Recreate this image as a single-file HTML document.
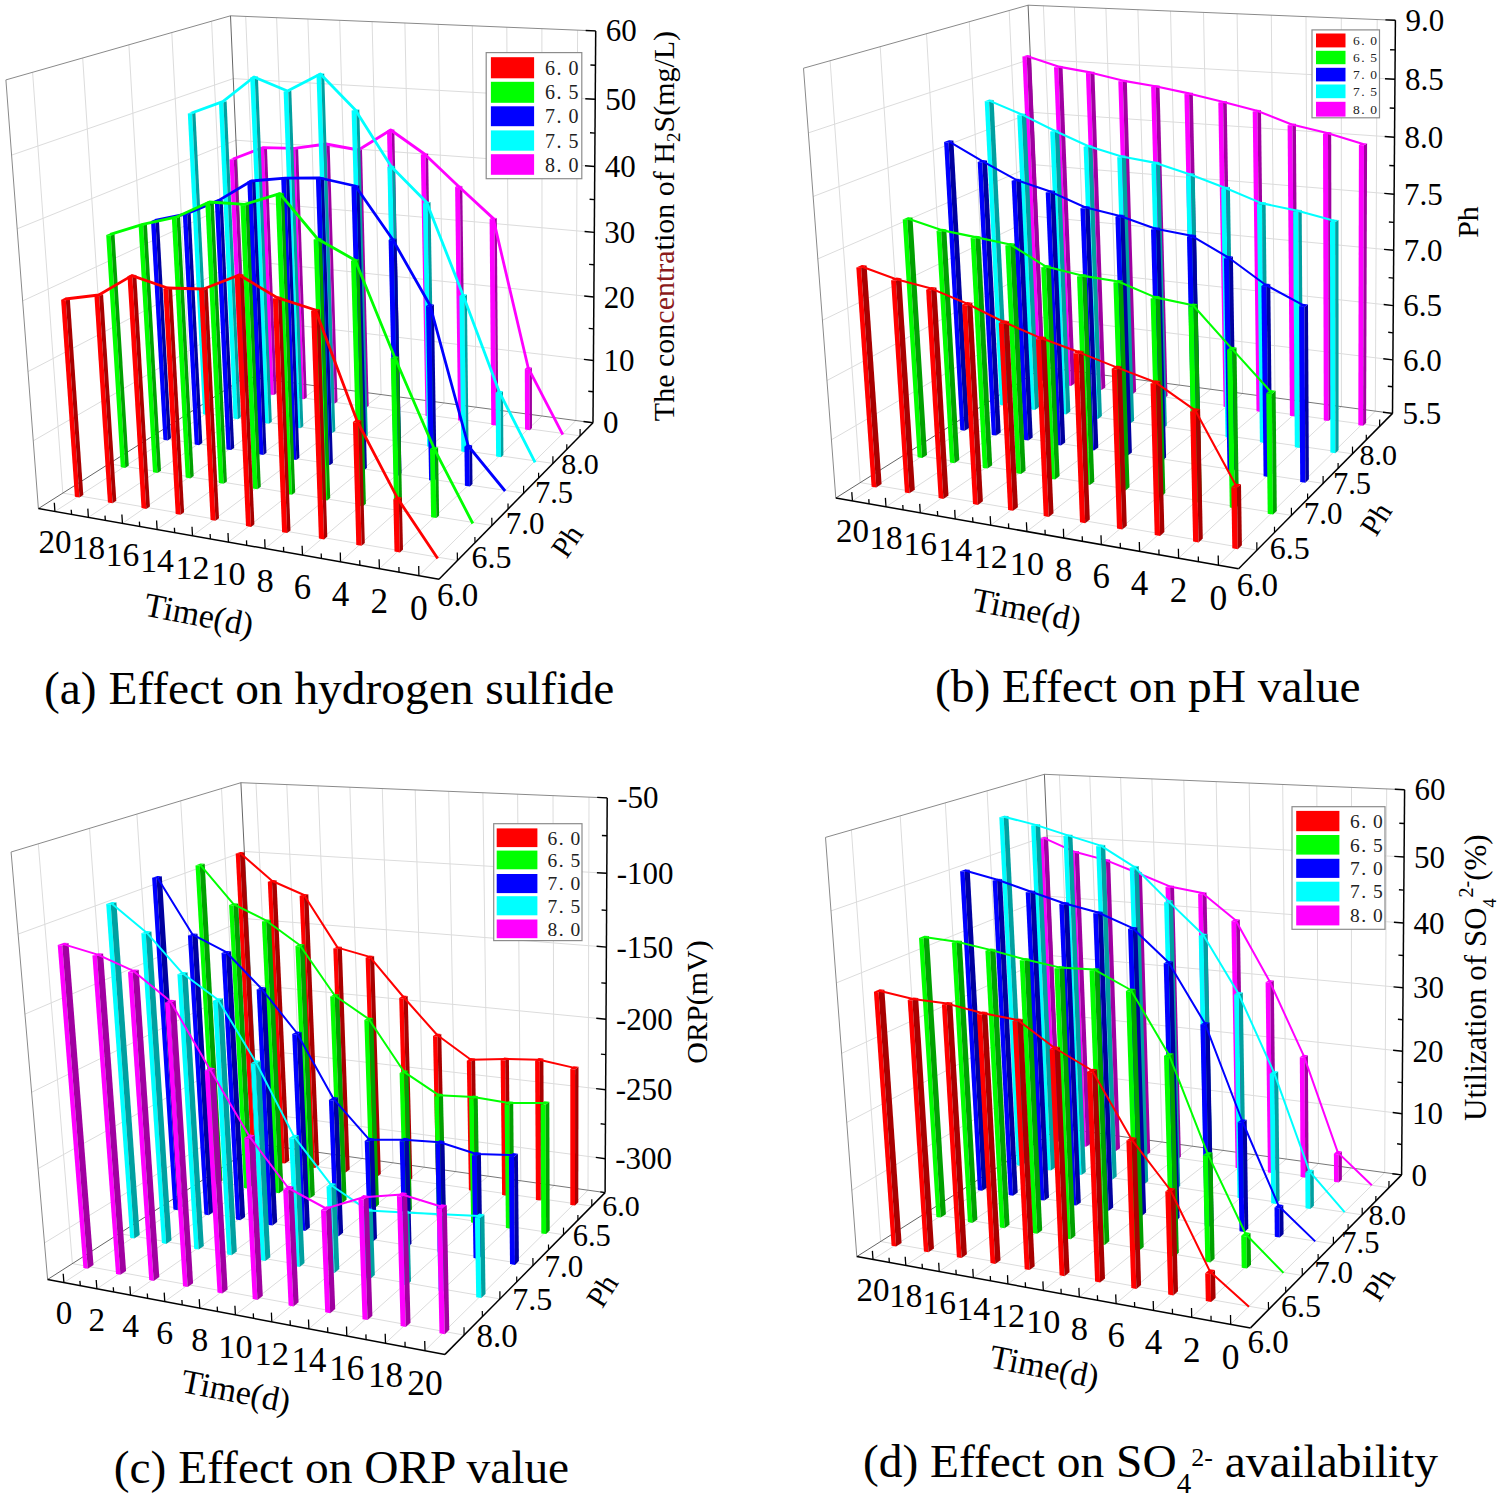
<!DOCTYPE html>
<html><head><meta charset="utf-8"><style>html,body{margin:0;padding:0;background:#fff;overflow:hidden}svg{display:block}</style></head>
<body><svg width="1499" height="1498" viewBox="0 0 1499 1498">
<rect width="1499" height="1498" fill="#fff"/>
<line x1="62.8" y1="493.1" x2="32.6" y2="72.3" stroke="#dcdcdc" stroke-width="1" />
<line x1="109.0" y1="463.8" x2="82.7" y2="58.0" stroke="#dcdcdc" stroke-width="1" />
<line x1="151.7" y1="436.7" x2="128.9" y2="44.8" stroke="#dcdcdc" stroke-width="1" />
<line x1="191.5" y1="411.4" x2="171.8" y2="32.6" stroke="#dcdcdc" stroke-width="1" />
<line x1="228.7" y1="387.8" x2="211.6" y2="21.2" stroke="#dcdcdc" stroke-width="1" />
<line x1="33.3" y1="440.8" x2="243.8" y2="319.0" stroke="#dcdcdc" stroke-width="1" />
<line x1="28.0" y1="371.6" x2="241.2" y2="260.4" stroke="#dcdcdc" stroke-width="1" />
<line x1="22.7" y1="300.9" x2="238.6" y2="200.9" stroke="#dcdcdc" stroke-width="1" />
<line x1="17.2" y1="228.8" x2="235.9" y2="140.2" stroke="#dcdcdc" stroke-width="1" />
<line x1="11.6" y1="155.1" x2="233.2" y2="78.6" stroke="#dcdcdc" stroke-width="1" />
<line x1="575.9" y1="420.5" x2="577.6" y2="30.2" stroke="#dcdcdc" stroke-width="1" />
<line x1="542.1" y1="416.0" x2="541.9" y2="28.7" stroke="#dcdcdc" stroke-width="1" />
<line x1="508.9" y1="411.6" x2="506.8" y2="27.2" stroke="#dcdcdc" stroke-width="1" />
<line x1="476.2" y1="407.2" x2="472.3" y2="25.8" stroke="#dcdcdc" stroke-width="1" />
<line x1="444.0" y1="403.0" x2="438.3" y2="24.4" stroke="#dcdcdc" stroke-width="1" />
<line x1="412.3" y1="398.7" x2="404.9" y2="23.0" stroke="#dcdcdc" stroke-width="1" />
<line x1="381.1" y1="394.6" x2="372.1" y2="21.7" stroke="#dcdcdc" stroke-width="1" />
<line x1="350.3" y1="390.5" x2="339.7" y2="20.3" stroke="#dcdcdc" stroke-width="1" />
<line x1="320.0" y1="386.5" x2="307.9" y2="19.0" stroke="#dcdcdc" stroke-width="1" />
<line x1="290.2" y1="382.5" x2="276.6" y2="17.7" stroke="#dcdcdc" stroke-width="1" />
<line x1="260.8" y1="378.6" x2="245.7" y2="16.4" stroke="#dcdcdc" stroke-width="1" />
<line x1="593.4" y1="360.5" x2="243.8" y2="319.0" stroke="#dcdcdc" stroke-width="1" />
<line x1="593.8" y1="297.0" x2="241.2" y2="260.4" stroke="#dcdcdc" stroke-width="1" />
<line x1="594.3" y1="232.4" x2="238.6" y2="200.9" stroke="#dcdcdc" stroke-width="1" />
<line x1="594.7" y1="166.5" x2="235.9" y2="140.2" stroke="#dcdcdc" stroke-width="1" />
<line x1="595.2" y1="99.3" x2="233.2" y2="78.6" stroke="#dcdcdc" stroke-width="1" />
<line x1="457.4" y1="560.5" x2="62.8" y2="493.1" stroke="#dcdcdc" stroke-width="1" />
<line x1="491.9" y1="525.5" x2="109.0" y2="463.8" stroke="#dcdcdc" stroke-width="1" />
<line x1="523.6" y1="493.2" x2="151.7" y2="436.7" stroke="#dcdcdc" stroke-width="1" />
<line x1="552.9" y1="463.4" x2="191.5" y2="411.4" stroke="#dcdcdc" stroke-width="1" />
<line x1="580.1" y1="435.8" x2="228.7" y2="387.8" stroke="#dcdcdc" stroke-width="1" />
<line x1="418.9" y1="575.7" x2="575.9" y2="420.5" stroke="#dcdcdc" stroke-width="1" />
<line x1="379.4" y1="568.7" x2="542.1" y2="416.0" stroke="#dcdcdc" stroke-width="1" />
<line x1="340.5" y1="561.8" x2="508.9" y2="411.6" stroke="#dcdcdc" stroke-width="1" />
<line x1="302.5" y1="555.1" x2="476.2" y2="407.2" stroke="#dcdcdc" stroke-width="1" />
<line x1="265.1" y1="548.6" x2="444.0" y2="403.0" stroke="#dcdcdc" stroke-width="1" />
<line x1="228.4" y1="542.1" x2="412.3" y2="398.7" stroke="#dcdcdc" stroke-width="1" />
<line x1="192.5" y1="535.8" x2="381.1" y2="394.6" stroke="#dcdcdc" stroke-width="1" />
<line x1="157.1" y1="529.5" x2="350.3" y2="390.5" stroke="#dcdcdc" stroke-width="1" />
<line x1="122.4" y1="523.4" x2="320.0" y2="386.5" stroke="#dcdcdc" stroke-width="1" />
<line x1="88.4" y1="517.4" x2="290.2" y2="382.5" stroke="#dcdcdc" stroke-width="1" />
<line x1="54.9" y1="511.5" x2="260.8" y2="378.6" stroke="#dcdcdc" stroke-width="1" />
<line x1="5.9" y1="79.9" x2="230.5" y2="15.8" stroke="#8a8a8a" stroke-width="1" />
<line x1="230.5" y1="15.8" x2="595.7" y2="30.9" stroke="#8a8a8a" stroke-width="1" />
<line x1="38.4" y1="508.6" x2="5.9" y2="79.9" stroke="#8a8a8a" stroke-width="1" />
<line x1="246.3" y1="376.6" x2="230.5" y2="15.8" stroke="#666" stroke-width="1" />
<line x1="38.4" y1="508.6" x2="246.3" y2="376.6" stroke="#666" stroke-width="1" />
<line x1="246.3" y1="376.6" x2="593.0" y2="422.8" stroke="#777" stroke-width="1" />
<polygon points="239.9,390.5 244.0,391.0 233.8,159.8 229.5,159.5" fill="#ff00ff" />
<polygon points="244.0,391.0 246.8,389.2 236.7,158.5 233.8,159.8" fill="#a000a0" />
<polygon points="229.5,159.5 233.8,159.8 236.7,158.5 232.5,158.2" fill="#ff00ff" />
<polygon points="269.6,394.5 273.8,395.1 264.0,148.4 259.6,148.1" fill="#ff00ff" />
<polygon points="273.8,395.1 276.6,393.3 266.9,147.1 264.0,148.4" fill="#a000a0" />
<polygon points="259.6,148.1 264.0,148.4 266.9,147.1 262.6,146.8" fill="#ff00ff" />
<polygon points="299.8,398.7 304.1,399.3 295.2,149.2 290.8,148.9" fill="#ff00ff" />
<polygon points="304.1,399.3 306.8,397.4 298.1,147.9 295.2,149.2" fill="#a000a0" />
<polygon points="290.8,148.9 295.2,149.2 298.1,147.9 293.7,147.6" fill="#ff00ff" />
<polygon points="330.5,402.9 334.9,403.5 326.8,144.8 322.4,144.5" fill="#ff00ff" />
<polygon points="334.9,403.5 337.5,401.6 329.6,143.5 326.8,144.8" fill="#a000a0" />
<polygon points="322.4,144.5 326.8,144.8 329.6,143.5 325.1,143.2" fill="#ff00ff" />
<polygon points="361.7,407.1 366.1,407.8 359.3,150.8 354.7,150.5" fill="#ff00ff" />
<polygon points="366.1,407.8 368.7,405.8 362.0,149.5 359.3,150.8" fill="#a000a0" />
<polygon points="354.7,150.5 359.3,150.8 362.0,149.5 357.4,149.2" fill="#ff00ff" />
<polygon points="393.3,411.5 397.8,412.1 391.7,130.8 387.0,130.5" fill="#ff00ff" />
<polygon points="397.8,412.1 400.3,410.1 394.3,129.5 391.7,130.8" fill="#a000a0" />
<polygon points="387.0,130.5 391.7,130.8 394.3,129.5 389.7,129.2" fill="#ff00ff" />
<polygon points="425.5,415.9 430.0,416.5 425.5,154.8 420.8,154.5" fill="#ff00ff" />
<polygon points="430.0,416.5 432.4,414.5 428.1,153.5 425.5,154.8" fill="#a000a0" />
<polygon points="420.8,154.5 425.5,154.8 428.1,153.5 423.4,153.2" fill="#ff00ff" />
<polygon points="458.1,420.4 462.7,421.0 459.9,187.4 455.1,187.0" fill="#ff00ff" />
<polygon points="462.7,421.0 465.1,419.0 462.3,186.0 459.9,187.4" fill="#a000a0" />
<polygon points="455.1,187.0 459.9,187.4 462.3,186.0 457.6,185.6" fill="#ff00ff" />
<polygon points="491.3,424.9 496.0,425.5 494.5,219.4 489.6,218.9" fill="#ff00ff" />
<polygon points="496.0,425.5 498.3,423.5 496.8,217.9 494.5,219.4" fill="#a000a0" />
<polygon points="489.6,218.9 494.5,219.4 496.8,217.9 492.0,217.4" fill="#ff00ff" />
<polygon points="525.0,429.5 529.8,430.2 529.6,369.5 524.8,368.9" fill="#ff00ff" />
<polygon points="529.8,430.2 532.0,428.1 531.9,367.5 529.6,369.5" fill="#a000a0" />
<polygon points="524.8,368.9 529.6,369.5 531.9,367.5 527.1,366.9" fill="#ff00ff" />
<polyline points="233.1,159.0 263.3,147.6 294.5,148.4 326.0,144.0 358.4,150.0 390.7,130.0 424.5,154.0 458.7,186.5 493.2,218.4 528.3,368.2 562.8,434.6" fill="none" stroke="#ff00ff" stroke-width="2.8" stroke-linejoin="round" />
<polygon points="203.0,414.2 207.2,414.9 192.2,113.7 187.8,113.4" fill="#00ffff" />
<polygon points="207.2,414.9 210.3,412.9 195.4,112.6 192.2,113.7" fill="#00a0a0" />
<polygon points="187.8,113.4 192.2,113.7 195.4,112.6 191.0,112.3" fill="#00ffff" />
<polygon points="233.5,418.6 237.8,419.3 223.4,102.3 218.9,102.0" fill="#00ffff" />
<polygon points="237.8,419.3 240.8,417.3 226.6,101.2 223.4,102.3" fill="#00a0a0" />
<polygon points="218.9,102.0 223.4,102.3 226.6,101.2 222.1,100.9" fill="#00ffff" />
<polygon points="264.5,423.1 268.9,423.8 254.8,77.7 250.2,77.4" fill="#00ffff" />
<polygon points="268.9,423.8 271.8,421.7 257.9,76.6 254.8,77.7" fill="#00a0a0" />
<polygon points="250.2,77.4 254.8,77.7 257.9,76.6 253.3,76.3" fill="#00ffff" />
<polygon points="296.0,427.7 300.4,428.3 288.3,91.7 283.6,91.4" fill="#00ffff" />
<polygon points="300.4,428.3 303.3,426.3 291.3,90.6 288.3,91.7" fill="#00a0a0" />
<polygon points="283.6,91.4 288.3,91.7 291.3,90.6 286.6,90.3" fill="#00ffff" />
<polygon points="328.0,432.3 332.5,432.9 321.2,74.7 316.5,74.4" fill="#00ffff" />
<polygon points="332.5,432.9 335.3,430.9 324.2,73.6 321.2,74.7" fill="#00a0a0" />
<polygon points="316.5,74.4 321.2,74.7 324.2,73.6 319.5,73.3" fill="#00ffff" />
<polygon points="360.5,437.0 365.1,437.6 356.4,110.8 351.6,110.5" fill="#00ffff" />
<polygon points="365.1,437.6 367.8,435.5 359.3,109.5 356.4,110.8" fill="#00a0a0" />
<polygon points="351.6,110.5 356.4,110.8 359.3,109.5 354.5,109.2" fill="#00ffff" />
<polygon points="393.6,441.8 398.2,442.4 392.3,167.4 387.4,167.0" fill="#00ffff" />
<polygon points="398.2,442.4 400.9,440.3 395.0,166.0 392.3,167.4" fill="#00a0a0" />
<polygon points="387.4,167.0 392.3,167.4 395.0,166.0 390.2,165.6" fill="#00ffff" />
<polygon points="427.2,446.6 431.9,447.3 427.8,203.6 422.9,203.1" fill="#00ffff" />
<polygon points="431.9,447.3 434.5,445.1 430.5,202.1 427.8,203.6" fill="#00a0a0" />
<polygon points="422.9,203.1 427.8,203.6 430.5,202.1 425.6,201.6" fill="#00ffff" />
<polygon points="461.3,451.5 466.2,452.2 464.3,296.4 459.4,295.8" fill="#00ffff" />
<polygon points="466.2,452.2 468.6,450.0 466.9,294.6 464.3,296.4" fill="#00a0a0" />
<polygon points="459.4,295.8 464.3,296.4 466.9,294.6 461.9,294.1" fill="#00ffff" />
<polygon points="496.1,456.6 501.0,457.3 500.6,393.4 495.6,392.7" fill="#00ffff" />
<polygon points="501.0,457.3 503.4,455.0 503.0,391.3 500.6,393.4" fill="#00a0a0" />
<polygon points="495.6,392.7 500.6,393.4 503.0,391.3 498.0,390.7" fill="#00ffff" />
<polyline points="191.6,113.0 222.8,101.6 254.0,77.0 287.5,91.0 320.4,74.0 355.4,110.0 391.2,166.5 426.7,202.6 463.1,295.2 499.3,392.0 535.1,462.3" fill="none" stroke="#00ffff" stroke-width="2.8" stroke-linejoin="round" />
<polygon points="163.4,439.7 167.7,440.4 155.5,221.4 151.0,221.0" fill="#0000ff" />
<polygon points="167.7,440.4 171.0,438.3 158.9,219.9 155.5,221.4" fill="#0000a0" />
<polygon points="151.0,221.0 155.5,221.4 158.9,219.9 154.5,219.4" fill="#0000ff" />
<polygon points="194.7,444.5 199.1,445.2 187.3,214.8 182.8,214.3" fill="#0000ff" />
<polygon points="199.1,445.2 202.3,443.0 190.7,213.3 187.3,214.8" fill="#0000a0" />
<polygon points="182.8,214.3 187.3,214.8 190.7,213.3 186.1,212.8" fill="#0000ff" />
<polygon points="226.5,449.4 231.0,450.1 219.5,201.4 214.8,200.9" fill="#0000ff" />
<polygon points="231.0,450.1 234.2,447.9 222.7,199.9 219.5,201.4" fill="#0000a0" />
<polygon points="214.8,200.9 219.5,201.4 222.7,199.9 218.1,199.4" fill="#0000ff" />
<polygon points="258.9,454.3 263.5,455.0 252.1,181.9 247.3,181.5" fill="#0000ff" />
<polygon points="263.5,455.0 266.5,452.8 255.3,180.5 252.1,181.9" fill="#0000a0" />
<polygon points="247.3,181.5 252.1,181.9 255.3,180.5 250.5,180.1" fill="#0000ff" />
<polygon points="291.8,459.3 296.4,460.0 286.1,179.1 281.2,178.7" fill="#0000ff" />
<polygon points="296.4,460.0 299.4,457.8 289.2,177.7 286.1,179.1" fill="#0000a0" />
<polygon points="281.2,178.7 286.1,179.1 289.2,177.7 284.4,177.3" fill="#0000ff" />
<polygon points="325.2,464.4 330.0,465.1 320.8,178.9 315.9,178.5" fill="#0000ff" />
<polygon points="330.0,465.1 332.9,462.9 323.9,177.5 320.8,178.9" fill="#0000a0" />
<polygon points="315.9,178.5 320.8,178.9 323.9,177.5 319.0,177.1" fill="#0000ff" />
<polygon points="359.3,469.6 364.1,470.3 356.4,187.0 351.4,186.5" fill="#0000ff" />
<polygon points="364.1,470.3 366.9,468.0 359.4,185.5 356.4,187.0" fill="#0000a0" />
<polygon points="351.4,186.5 356.4,187.0 359.4,185.5 354.4,185.0" fill="#0000ff" />
<polygon points="393.9,474.9 398.8,475.6 393.6,240.4 388.6,239.9" fill="#0000ff" />
<polygon points="398.8,475.6 401.5,473.3 396.5,238.7 393.6,240.4" fill="#0000a0" />
<polygon points="388.6,239.9 393.6,240.4 396.5,238.7 391.4,238.2" fill="#0000ff" />
<polygon points="429.1,480.2 434.0,481.0 431.1,306.4 426.0,305.9" fill="#0000ff" />
<polygon points="434.0,481.0 436.7,478.6 433.9,304.5 431.1,306.4" fill="#0000a0" />
<polygon points="426.0,305.9 431.1,306.4 433.9,304.5 428.8,304.0" fill="#0000ff" />
<polygon points="464.9,485.7 469.9,486.5 469.5,447.5 464.4,446.8" fill="#0000ff" />
<polygon points="469.9,486.5 472.5,484.1 472.1,445.2 469.5,447.5" fill="#0000a0" />
<polygon points="464.4,446.8 469.5,447.5 472.1,445.2 467.0,444.5" fill="#0000ff" />
<polyline points="155.0,220.4 186.7,213.8 218.8,200.4 251.3,181.0 285.2,178.2 319.9,178.0 355.4,186.0 392.5,239.3 430.0,305.2 468.3,446.0 505.1,491.0" fill="none" stroke="#0000ff" stroke-width="2.8" stroke-linejoin="round" />
<polygon points="120.8,467.2 125.3,467.9 110.8,235.4 106.2,235.0" fill="#00ff00" />
<polygon points="125.3,467.9 128.8,465.6 114.5,233.8 110.8,235.4" fill="#00a000" />
<polygon points="106.2,235.0 110.8,235.4 114.5,233.8 109.9,233.4" fill="#00ff00" />
<polygon points="153.0,472.3 157.5,473.1 143.2,225.4 138.6,225.0" fill="#00ff00" />
<polygon points="157.5,473.1 161.0,470.8 146.9,223.8 143.2,225.4" fill="#00a000" />
<polygon points="138.6,225.0 143.2,225.4 146.9,223.8 142.2,223.4" fill="#00ff00" />
<polygon points="185.7,477.6 190.3,478.4 176.6,218.2 171.8,217.8" fill="#00ff00" />
<polygon points="190.3,478.4 193.7,476.0 180.1,216.6 176.6,218.2" fill="#00a000" />
<polygon points="171.8,217.8 176.6,218.2 180.1,216.6 175.3,216.2" fill="#00ff00" />
<polygon points="218.9,483.0 223.6,483.7 210.2,203.0 205.3,202.6" fill="#00ff00" />
<polygon points="223.6,483.7 226.9,481.4 213.7,201.4 210.2,203.0" fill="#00a000" />
<polygon points="205.3,202.6 210.2,203.0 213.7,201.4 208.8,201.0" fill="#00ff00" />
<polygon points="252.8,488.5 257.5,489.2 245.4,205.4 240.4,205.0" fill="#00ff00" />
<polygon points="257.5,489.2 260.8,486.8 248.8,203.8 245.4,205.4" fill="#00a000" />
<polygon points="240.4,205.0 245.4,205.4 248.8,203.8 243.8,203.4" fill="#00ff00" />
<polygon points="287.2,494.0 292.0,494.8 280.7,194.6 275.6,194.2" fill="#00ff00" />
<polygon points="292.0,494.8 295.2,492.3 284.0,193.0 280.7,194.6" fill="#00a000" />
<polygon points="275.6,194.2 280.7,194.6 284.0,193.0 279.0,192.6" fill="#00ff00" />
<polygon points="322.2,499.7 327.2,500.5 318.7,240.1 313.6,239.6" fill="#00ff00" />
<polygon points="327.2,500.5 330.2,498.0 321.9,238.4 318.7,240.1" fill="#00a000" />
<polygon points="313.6,239.6 318.7,240.1 321.9,238.4 316.8,237.9" fill="#00ff00" />
<polygon points="357.9,505.4 362.9,506.2 356.2,261.4 351.0,260.8" fill="#00ff00" />
<polygon points="362.9,506.2 365.9,503.7 359.3,259.6 356.2,261.4" fill="#00a000" />
<polygon points="351.0,260.8 356.2,261.4 359.3,259.6 354.1,259.0" fill="#00ff00" />
<polygon points="394.2,511.3 399.3,512.1 396.0,358.9 390.7,358.2" fill="#00ff00" />
<polygon points="399.3,512.1 402.2,509.5 398.9,356.8 396.0,358.9" fill="#00a000" />
<polygon points="390.7,358.2 396.0,358.9 398.9,356.8 393.7,356.1" fill="#00ff00" />
<polygon points="431.1,517.2 436.4,518.1 435.2,449.9 430.0,449.1" fill="#00ff00" />
<polygon points="436.4,518.1 439.1,515.5 438.1,447.5 435.2,449.9" fill="#00a000" />
<polygon points="430.0,449.1 435.2,449.9 438.1,447.5 432.8,446.7" fill="#00ff00" />
<polyline points="110.3,234.4 142.7,224.4 175.9,217.2 209.5,202.0 244.6,204.4 279.8,193.6 317.7,239.0 355.2,260.2 394.8,357.5 434.0,448.3 472.8,523.5" fill="none" stroke="#00ff00" stroke-width="2.8" stroke-linejoin="round" />
<polygon points="74.9,496.7 79.5,497.5 65.8,300.2 61.1,299.7" fill="#ff0000" />
<polygon points="79.5,497.5 83.3,495.1 69.8,298.3 65.8,300.2" fill="#a80000" />
<polygon points="61.1,299.7 65.8,300.2 69.8,298.3 65.1,297.8" fill="#ff0000" />
<polygon points="107.9,502.4 112.6,503.2 99.2,296.2 94.4,295.7" fill="#ff0000" />
<polygon points="112.6,503.2 116.3,500.7 103.1,294.3 99.2,296.2" fill="#a80000" />
<polygon points="94.4,295.7 99.2,296.2 103.1,294.3 98.3,293.8" fill="#ff0000" />
<polygon points="141.5,508.1 146.3,508.9 132.4,276.8 127.5,276.3" fill="#ff0000" />
<polygon points="146.3,508.9 149.9,506.4 136.3,274.9 132.4,276.8" fill="#a80000" />
<polygon points="127.5,276.3 132.4,276.8 136.3,274.9 131.4,274.4" fill="#ff0000" />
<polygon points="175.7,514.0 180.6,514.8 168.3,289.2 163.3,288.7" fill="#ff0000" />
<polygon points="180.6,514.8 184.1,512.2 172.0,287.3 168.3,289.2" fill="#a80000" />
<polygon points="163.3,288.7 168.3,289.2 172.0,287.3 167.0,286.8" fill="#ff0000" />
<polygon points="210.6,520.0 215.5,520.8 204.1,290.3 199.0,289.7" fill="#ff0000" />
<polygon points="215.5,520.8 219.0,518.2 207.7,288.3 204.1,290.3" fill="#a80000" />
<polygon points="199.0,289.7 204.1,290.3 207.7,288.3 202.7,287.7" fill="#ff0000" />
<polygon points="246.0,526.0 251.0,526.9 240.0,276.2 234.8,275.7" fill="#ff0000" />
<polygon points="251.0,526.9 254.4,524.2 243.5,274.3 240.0,276.2" fill="#a80000" />
<polygon points="234.8,275.7 240.0,276.2 243.5,274.3 238.4,273.8" fill="#ff0000" />
<polygon points="282.1,532.2 287.2,533.1 278.1,298.9 272.9,298.3" fill="#ff0000" />
<polygon points="287.2,533.1 290.5,530.4 281.6,296.9 278.1,298.9" fill="#a80000" />
<polygon points="272.9,298.3 278.1,298.9 281.6,296.9 276.4,296.3" fill="#ff0000" />
<polygon points="318.9,538.5 324.1,539.4 316.5,311.3 311.1,310.7" fill="#ff0000" />
<polygon points="324.1,539.4 327.3,536.6 319.9,309.3 316.5,311.3" fill="#a80000" />
<polygon points="311.1,310.7 316.5,311.3 319.9,309.3 314.5,308.7" fill="#ff0000" />
<polygon points="356.3,544.9 361.6,545.8 358.3,422.8 352.9,422.0" fill="#ff0000" />
<polygon points="361.6,545.8 364.8,543.0 361.4,420.4 358.3,422.8" fill="#a80000" />
<polygon points="352.9,422.0 358.3,422.8 361.4,420.4 356.1,419.6" fill="#ff0000" />
<polygon points="394.5,551.5 399.9,552.4 398.8,500.2 393.3,499.3" fill="#ff0000" />
<polygon points="399.9,552.4 403.0,549.5 401.8,497.5 398.8,500.2" fill="#a80000" />
<polygon points="393.3,499.3 398.8,500.2 401.8,497.5 396.4,496.6" fill="#ff0000" />
<polyline points="65.4,299.0 98.8,295.0 131.9,275.6 167.6,288.0 203.4,289.0 239.2,275.0 277.2,297.6 315.5,310.0 357.2,421.2 397.6,498.4 437.7,558.5" fill="none" stroke="#ff0000" stroke-width="2.8" stroke-linejoin="round" />
<line x1="38.4" y1="508.6" x2="439.0" y2="579.2" stroke="#000" stroke-width="1.5" />
<line x1="439.0" y1="579.2" x2="593.0" y2="422.8" stroke="#000" stroke-width="1.5" />
<line x1="593.0" y1="422.8" x2="595.7" y2="30.9" stroke="#000" stroke-width="1.5" />
<line x1="418.9" y1="575.7" x2="418.7" y2="566.1" stroke="#000" stroke-width="1.3" />
<line x1="399.0" y1="572.2" x2="398.9" y2="567.0" stroke="#000" stroke-width="1.3" />
<line x1="379.4" y1="568.7" x2="379.1" y2="559.2" stroke="#000" stroke-width="1.3" />
<line x1="359.9" y1="565.3" x2="359.7" y2="560.2" stroke="#000" stroke-width="1.3" />
<line x1="340.5" y1="561.8" x2="340.3" y2="552.5" stroke="#000" stroke-width="1.3" />
<line x1="321.4" y1="558.5" x2="321.2" y2="553.5" stroke="#000" stroke-width="1.3" />
<line x1="302.5" y1="555.1" x2="302.1" y2="545.8" stroke="#000" stroke-width="1.3" />
<line x1="283.7" y1="551.8" x2="283.5" y2="546.9" stroke="#000" stroke-width="1.3" />
<line x1="265.1" y1="548.6" x2="264.7" y2="539.3" stroke="#000" stroke-width="1.3" />
<line x1="246.7" y1="545.3" x2="246.5" y2="540.4" stroke="#000" stroke-width="1.3" />
<line x1="228.4" y1="542.1" x2="228.0" y2="533.0" stroke="#000" stroke-width="1.3" />
<line x1="210.4" y1="538.9" x2="210.1" y2="534.0" stroke="#000" stroke-width="1.3" />
<line x1="192.5" y1="535.8" x2="192.0" y2="526.7" stroke="#000" stroke-width="1.3" />
<line x1="174.7" y1="532.6" x2="174.4" y2="527.8" stroke="#000" stroke-width="1.3" />
<line x1="157.1" y1="529.5" x2="156.6" y2="520.5" stroke="#000" stroke-width="1.3" />
<line x1="139.7" y1="526.5" x2="139.4" y2="521.6" stroke="#000" stroke-width="1.3" />
<line x1="122.4" y1="523.4" x2="121.9" y2="514.5" stroke="#000" stroke-width="1.3" />
<line x1="105.3" y1="520.4" x2="105.0" y2="515.6" stroke="#000" stroke-width="1.3" />
<line x1="88.4" y1="517.4" x2="87.8" y2="508.6" stroke="#000" stroke-width="1.3" />
<line x1="71.6" y1="514.5" x2="71.2" y2="509.7" stroke="#000" stroke-width="1.3" />
<line x1="54.9" y1="511.5" x2="54.3" y2="502.8" stroke="#000" stroke-width="1.3" />
<line x1="457.4" y1="560.5" x2="457.3" y2="552.6" stroke="#000" stroke-width="1.2" />
<line x1="475.0" y1="542.6" x2="474.9" y2="537.0" stroke="#000" stroke-width="1.2" />
<line x1="491.9" y1="525.5" x2="491.8" y2="517.8" stroke="#000" stroke-width="1.2" />
<line x1="508.1" y1="509.0" x2="508.0" y2="503.6" stroke="#000" stroke-width="1.2" />
<line x1="523.6" y1="493.2" x2="523.6" y2="485.8" stroke="#000" stroke-width="1.2" />
<line x1="538.6" y1="478.1" x2="538.6" y2="472.8" stroke="#000" stroke-width="1.2" />
<line x1="552.9" y1="463.4" x2="552.9" y2="456.3" stroke="#000" stroke-width="1.2" />
<line x1="566.8" y1="449.4" x2="566.8" y2="444.3" stroke="#000" stroke-width="1.2" />
<line x1="580.1" y1="435.8" x2="580.1" y2="428.9" stroke="#000" stroke-width="1.2" />
<line x1="593.0" y1="422.8" x2="583.5" y2="421.5" stroke="#000" stroke-width="1.4" />
<line x1="593.2" y1="391.8" x2="588.3" y2="391.2" stroke="#000" stroke-width="1.4" />
<line x1="593.4" y1="360.5" x2="583.9" y2="359.4" stroke="#000" stroke-width="1.4" />
<line x1="593.6" y1="328.9" x2="588.7" y2="328.4" stroke="#000" stroke-width="1.4" />
<line x1="593.8" y1="297.0" x2="584.2" y2="296.0" stroke="#000" stroke-width="1.4" />
<line x1="594.1" y1="264.8" x2="589.1" y2="264.4" stroke="#000" stroke-width="1.4" />
<line x1="594.3" y1="232.4" x2="584.6" y2="231.5" stroke="#000" stroke-width="1.4" />
<line x1="594.5" y1="199.6" x2="589.6" y2="199.2" stroke="#000" stroke-width="1.4" />
<line x1="594.7" y1="166.5" x2="585.0" y2="165.8" stroke="#000" stroke-width="1.4" />
<line x1="595.0" y1="133.1" x2="590.0" y2="132.7" stroke="#000" stroke-width="1.4" />
<line x1="595.2" y1="99.3" x2="585.3" y2="98.8" stroke="#000" stroke-width="1.4" />
<line x1="595.4" y1="65.3" x2="590.4" y2="65.0" stroke="#000" stroke-width="1.4" />
<line x1="595.7" y1="30.9" x2="585.7" y2="30.5" stroke="#000" stroke-width="1.4" />
<line x1="860.2" y1="482.6" x2="830.1" y2="60.7" stroke="#dcdcdc" stroke-width="1" />
<line x1="906.4" y1="453.6" x2="880.2" y2="46.6" stroke="#dcdcdc" stroke-width="1" />
<line x1="949.2" y1="426.6" x2="926.5" y2="33.7" stroke="#dcdcdc" stroke-width="1" />
<line x1="989.0" y1="401.6" x2="969.3" y2="21.6" stroke="#dcdcdc" stroke-width="1" />
<line x1="1026.2" y1="378.2" x2="1009.2" y2="10.5" stroke="#dcdcdc" stroke-width="1" />
<line x1="831.4" y1="439.8" x2="1041.7" y2="317.6" stroke="#dcdcdc" stroke-width="1" />
<line x1="827.0" y1="380.5" x2="1039.5" y2="267.4" stroke="#dcdcdc" stroke-width="1" />
<line x1="822.4" y1="320.3" x2="1037.3" y2="216.5" stroke="#dcdcdc" stroke-width="1" />
<line x1="817.8" y1="258.9" x2="1035.0" y2="164.8" stroke="#dcdcdc" stroke-width="1" />
<line x1="813.1" y1="196.5" x2="1032.7" y2="112.4" stroke="#dcdcdc" stroke-width="1" />
<line x1="808.3" y1="132.9" x2="1030.4" y2="59.2" stroke="#dcdcdc" stroke-width="1" />
<line x1="1375.3" y1="411.2" x2="1377.2" y2="19.6" stroke="#dcdcdc" stroke-width="1" />
<line x1="1341.4" y1="406.6" x2="1341.3" y2="18.1" stroke="#dcdcdc" stroke-width="1" />
<line x1="1307.9" y1="402.2" x2="1306.0" y2="16.6" stroke="#dcdcdc" stroke-width="1" />
<line x1="1275.0" y1="397.8" x2="1271.3" y2="15.2" stroke="#dcdcdc" stroke-width="1" />
<line x1="1242.6" y1="393.5" x2="1237.1" y2="13.8" stroke="#dcdcdc" stroke-width="1" />
<line x1="1210.8" y1="389.3" x2="1203.5" y2="12.4" stroke="#dcdcdc" stroke-width="1" />
<line x1="1179.4" y1="385.1" x2="1170.5" y2="11.0" stroke="#dcdcdc" stroke-width="1" />
<line x1="1148.4" y1="381.0" x2="1137.9" y2="9.7" stroke="#dcdcdc" stroke-width="1" />
<line x1="1118.0" y1="376.9" x2="1105.9" y2="8.4" stroke="#dcdcdc" stroke-width="1" />
<line x1="1088.0" y1="372.9" x2="1074.4" y2="7.1" stroke="#dcdcdc" stroke-width="1" />
<line x1="1058.4" y1="369.0" x2="1043.4" y2="5.8" stroke="#dcdcdc" stroke-width="1" />
<line x1="1392.9" y1="359.9" x2="1041.7" y2="317.6" stroke="#dcdcdc" stroke-width="1" />
<line x1="1393.3" y1="305.6" x2="1039.5" y2="267.4" stroke="#dcdcdc" stroke-width="1" />
<line x1="1393.7" y1="250.3" x2="1037.3" y2="216.5" stroke="#dcdcdc" stroke-width="1" />
<line x1="1394.1" y1="194.2" x2="1035.0" y2="164.8" stroke="#dcdcdc" stroke-width="1" />
<line x1="1394.5" y1="137.2" x2="1032.7" y2="112.4" stroke="#dcdcdc" stroke-width="1" />
<line x1="1395.0" y1="79.2" x2="1030.4" y2="59.2" stroke="#dcdcdc" stroke-width="1" />
<line x1="1256.9" y1="550.1" x2="860.2" y2="482.6" stroke="#dcdcdc" stroke-width="1" />
<line x1="1291.4" y1="515.4" x2="906.4" y2="453.6" stroke="#dcdcdc" stroke-width="1" />
<line x1="1323.1" y1="483.4" x2="949.2" y2="426.6" stroke="#dcdcdc" stroke-width="1" />
<line x1="1352.5" y1="453.8" x2="989.0" y2="401.6" stroke="#dcdcdc" stroke-width="1" />
<line x1="1379.6" y1="426.4" x2="1026.2" y2="378.2" stroke="#dcdcdc" stroke-width="1" />
<line x1="1218.4" y1="565.1" x2="1375.3" y2="411.2" stroke="#dcdcdc" stroke-width="1" />
<line x1="1178.6" y1="558.1" x2="1341.4" y2="406.6" stroke="#dcdcdc" stroke-width="1" />
<line x1="1139.6" y1="551.3" x2="1307.9" y2="402.2" stroke="#dcdcdc" stroke-width="1" />
<line x1="1101.3" y1="544.6" x2="1275.0" y2="397.8" stroke="#dcdcdc" stroke-width="1" />
<line x1="1063.7" y1="538.0" x2="1242.6" y2="393.5" stroke="#dcdcdc" stroke-width="1" />
<line x1="1026.9" y1="531.5" x2="1210.8" y2="389.3" stroke="#dcdcdc" stroke-width="1" />
<line x1="990.7" y1="525.2" x2="1179.4" y2="385.1" stroke="#dcdcdc" stroke-width="1" />
<line x1="955.2" y1="518.9" x2="1148.4" y2="381.0" stroke="#dcdcdc" stroke-width="1" />
<line x1="920.3" y1="512.8" x2="1118.0" y2="376.9" stroke="#dcdcdc" stroke-width="1" />
<line x1="886.0" y1="506.8" x2="1088.0" y2="372.9" stroke="#dcdcdc" stroke-width="1" />
<line x1="852.4" y1="500.9" x2="1058.4" y2="369.0" stroke="#dcdcdc" stroke-width="1" />
<line x1="803.5" y1="68.2" x2="1028.1" y2="5.2" stroke="#8a8a8a" stroke-width="1" />
<line x1="1028.1" y1="5.2" x2="1395.4" y2="20.3" stroke="#8a8a8a" stroke-width="1" />
<line x1="835.8" y1="498.0" x2="803.5" y2="68.2" stroke="#8a8a8a" stroke-width="1" />
<line x1="1043.8" y1="367.1" x2="1028.1" y2="5.2" stroke="#666" stroke-width="1" />
<line x1="835.8" y1="498.0" x2="1043.8" y2="367.1" stroke="#666" stroke-width="1" />
<line x1="1043.8" y1="367.1" x2="1392.5" y2="413.4" stroke="#777" stroke-width="1" />
<polygon points="1036.9,381.2 1041.0,381.8 1026.7,56.9 1022.4,56.6" fill="#ff00ff" />
<polygon points="1041.0,381.8 1045.0,379.2 1031.0,55.5 1026.7,56.9" fill="#a000a0" />
<polygon points="1022.4,56.6 1026.7,56.9 1031.0,55.5 1026.6,55.3" fill="#ff00ff" />
<polygon points="1066.8,385.3 1071.0,385.9 1058.4,67.5 1054.0,67.2" fill="#ff00ff" />
<polygon points="1071.0,385.9 1074.9,383.3 1062.5,66.0 1058.4,67.5" fill="#a000a0" />
<polygon points="1054.0,67.2 1058.4,67.5 1062.5,66.0 1058.1,65.8" fill="#ff00ff" />
<polygon points="1097.2,389.4 1101.5,390.0 1090.4,73.3 1085.9,73.0" fill="#ff00ff" />
<polygon points="1101.5,390.0 1105.3,387.4 1094.4,71.8 1090.4,73.3" fill="#a000a0" />
<polygon points="1085.9,73.0 1090.4,73.3 1094.4,71.8 1089.9,71.5" fill="#ff00ff" />
<polygon points="1128.1,393.7 1132.4,394.3 1122.8,81.5 1118.3,81.2" fill="#ff00ff" />
<polygon points="1132.4,394.3 1136.1,391.6 1126.8,80.0 1122.8,81.5" fill="#a000a0" />
<polygon points="1118.3,81.2 1122.8,81.5 1126.8,80.0 1122.2,79.7" fill="#ff00ff" />
<polygon points="1159.4,398.0 1163.8,398.6 1155.7,87.1 1151.1,86.8" fill="#ff00ff" />
<polygon points="1163.8,398.6 1167.5,395.9 1159.5,85.5 1155.7,87.1" fill="#a000a0" />
<polygon points="1151.1,86.8 1155.7,87.1 1159.5,85.5 1154.9,85.2" fill="#ff00ff" />
<polygon points="1191.3,402.3 1195.8,402.9 1189.1,94.3 1184.4,94.0" fill="#ff00ff" />
<polygon points="1195.8,402.9 1199.3,400.2 1192.8,92.7 1189.1,94.3" fill="#a000a0" />
<polygon points="1184.4,94.0 1189.1,94.3 1192.8,92.7 1188.2,92.4" fill="#ff00ff" />
<polygon points="1223.6,406.7 1228.2,407.4 1223.1,102.8 1218.3,102.5" fill="#ff00ff" />
<polygon points="1228.2,407.4 1231.6,404.6 1226.7,101.1 1223.1,102.8" fill="#a000a0" />
<polygon points="1218.3,102.5 1223.1,102.8 1226.7,101.1 1221.9,100.9" fill="#ff00ff" />
<polygon points="1256.5,411.2 1261.1,411.9 1257.5,111.7 1252.7,111.4" fill="#ff00ff" />
<polygon points="1261.1,411.9 1264.4,409.1 1261.0,110.1 1257.5,111.7" fill="#a000a0" />
<polygon points="1252.7,111.4 1257.5,111.7 1261.0,110.1 1256.2,109.7" fill="#ff00ff" />
<polygon points="1289.9,415.8 1294.6,416.4 1292.5,125.6 1287.6,125.2" fill="#ff00ff" />
<polygon points="1294.6,416.4 1297.8,413.6 1295.9,123.8 1292.5,125.6" fill="#a000a0" />
<polygon points="1287.6,125.2 1292.5,125.6 1295.9,123.8 1291.0,123.5" fill="#ff00ff" />
<polygon points="1323.8,420.4 1328.6,421.1 1328.0,134.0 1323.0,133.7" fill="#ff00ff" />
<polygon points="1328.6,421.1 1331.7,418.2 1331.2,132.2 1328.0,134.0" fill="#a000a0" />
<polygon points="1323.0,133.7 1328.0,134.0 1331.2,132.2 1326.3,131.9" fill="#ff00ff" />
<polygon points="1358.3,425.2 1363.1,425.8 1364.0,145.3 1358.9,144.9" fill="#ff00ff" />
<polygon points="1363.1,425.8 1366.1,422.9 1367.1,143.4 1364.0,145.3" fill="#a000a0" />
<polygon points="1358.9,144.9 1364.0,145.3 1367.1,143.4 1362.1,143.0" fill="#ff00ff" />
<polyline points="1026.7,56.1 1058.3,66.6 1090.1,72.4 1122.5,80.6 1155.3,86.2 1188.7,93.4 1222.5,101.8 1256.9,110.7 1291.8,124.5 1327.1,132.9 1363.0,144.1" fill="none" stroke="#ff00ff" stroke-width="2.1" stroke-linejoin="round" />
<polygon points="999.9,404.8 1004.2,405.4 989.1,101.5 984.7,101.2" fill="#00ffff" />
<polygon points="1004.2,405.4 1008.4,402.7 993.6,99.9 989.1,101.5" fill="#00a0a0" />
<polygon points="984.7,101.2 989.1,101.5 993.6,99.9 989.2,99.6" fill="#00ffff" />
<polygon points="1030.6,409.2 1034.9,409.9 1021.7,115.4 1017.2,115.1" fill="#00ffff" />
<polygon points="1034.9,409.9 1039.1,407.1 1026.1,113.8 1021.7,115.4" fill="#00a0a0" />
<polygon points="1017.2,115.1 1021.7,115.4 1026.1,113.8 1021.6,113.5" fill="#00ffff" />
<polygon points="1061.8,413.7 1066.2,414.4 1054.8,131.8 1050.2,131.5" fill="#00ffff" />
<polygon points="1066.2,414.4 1070.3,411.5 1059.1,130.1 1054.8,131.8" fill="#00a0a0" />
<polygon points="1050.2,131.5 1054.8,131.8 1059.1,130.1 1054.5,129.8" fill="#00ffff" />
<polygon points="1093.5,418.3 1098.0,418.9 1088.2,147.1 1083.6,146.7" fill="#00ffff" />
<polygon points="1098.0,418.9 1101.9,416.1 1092.4,145.3 1088.2,147.1" fill="#00a0a0" />
<polygon points="1083.6,146.7 1088.2,147.1 1092.4,145.3 1087.8,144.9" fill="#00ffff" />
<polygon points="1125.7,422.9 1130.2,423.6 1121.9,157.6 1117.2,157.2" fill="#00ffff" />
<polygon points="1130.2,423.6 1134.1,420.7 1126.0,155.7 1121.9,157.6" fill="#00a0a0" />
<polygon points="1117.2,157.2 1121.9,157.6 1126.0,155.7 1121.3,155.3" fill="#00ffff" />
<polygon points="1158.4,427.7 1163.0,428.3 1156.1,164.1 1151.3,163.7" fill="#00ffff" />
<polygon points="1163.0,428.3 1166.8,425.4 1160.0,162.1 1156.1,164.1" fill="#00a0a0" />
<polygon points="1151.3,163.7 1156.1,164.1 1160.0,162.1 1155.2,161.8" fill="#00ffff" />
<polygon points="1191.7,432.4 1196.4,433.1 1190.8,175.6 1186.0,175.2" fill="#00ffff" />
<polygon points="1196.4,433.1 1200.0,430.1 1194.7,173.6 1190.8,175.6" fill="#00a0a0" />
<polygon points="1186.0,175.2 1190.8,175.6 1194.7,173.6 1189.8,173.2" fill="#00ffff" />
<polygon points="1225.5,437.3 1230.3,438.0 1226.2,189.2 1221.2,188.8" fill="#00ffff" />
<polygon points="1230.3,438.0 1233.8,435.0 1229.9,187.1 1226.2,189.2" fill="#00a0a0" />
<polygon points="1221.2,188.8 1226.2,189.2 1229.9,187.1 1224.9,186.7" fill="#00ffff" />
<polygon points="1259.9,442.3 1264.7,443.0 1262.0,204.4 1257.0,204.0" fill="#00ffff" />
<polygon points="1264.7,443.0 1268.2,439.9 1265.6,202.3 1262.0,204.4" fill="#00a0a0" />
<polygon points="1257.0,204.0 1262.0,204.4 1265.6,202.3 1260.6,201.9" fill="#00ffff" />
<polygon points="1294.8,447.3 1299.7,448.0 1298.3,212.1 1293.2,211.6" fill="#00ffff" />
<polygon points="1299.7,448.0 1303.1,444.9 1301.7,209.9 1298.3,212.1" fill="#00a0a0" />
<polygon points="1293.2,211.6 1298.3,212.1 1301.7,209.9 1296.6,209.5" fill="#00ffff" />
<polygon points="1330.4,452.4 1335.4,453.2 1335.2,222.1 1330.0,221.7" fill="#00ffff" />
<polygon points="1335.4,453.2 1338.6,450.0 1338.5,219.9 1335.2,222.1" fill="#00a0a0" />
<polygon points="1330.0,221.7 1335.2,222.1 1338.5,219.9 1333.3,219.4" fill="#00ffff" />
<polyline points="989.2,100.6 1021.6,114.4 1054.6,130.8 1088.0,146.0 1121.6,156.5 1155.7,162.9 1190.3,174.4 1225.5,188.0 1261.3,203.1 1297.5,210.8 1334.2,220.8" fill="none" stroke="#00ffff" stroke-width="2.1" stroke-linejoin="round" />
<polygon points="960.3,430.1 964.6,430.8 948.6,142.5 944.1,142.1" fill="#0000ff" />
<polygon points="964.6,430.8 969.2,427.9 953.4,140.6 948.6,142.5" fill="#0000a0" />
<polygon points="944.1,142.1 948.6,142.5 953.4,140.6 948.9,140.3" fill="#0000ff" />
<polygon points="991.8,434.9 996.2,435.6 982.3,162.3 977.7,161.9" fill="#0000ff" />
<polygon points="996.2,435.6 1000.7,432.6 987.0,160.4 982.3,162.3" fill="#0000a0" />
<polygon points="977.7,161.9 982.3,162.3 987.0,160.4 982.4,160.0" fill="#0000ff" />
<polygon points="1023.8,439.8 1028.3,440.5 1016.3,181.1 1011.6,180.7" fill="#0000ff" />
<polygon points="1028.3,440.5 1032.7,437.5 1020.9,179.1 1016.3,181.1" fill="#0000a0" />
<polygon points="1011.6,180.7 1016.3,181.1 1020.9,179.1 1016.2,178.7" fill="#0000ff" />
<polygon points="1056.3,444.7 1060.9,445.4 1050.4,192.8 1045.7,192.4" fill="#0000ff" />
<polygon points="1060.9,445.4 1065.2,442.4 1054.9,190.7 1050.4,192.8" fill="#0000a0" />
<polygon points="1045.7,192.4 1050.4,192.8 1054.9,190.7 1050.2,190.3" fill="#0000ff" />
<polygon points="1089.4,449.8 1094.1,450.5 1085.2,208.6 1080.4,208.2" fill="#0000ff" />
<polygon points="1094.1,450.5 1098.3,447.4 1089.6,206.5 1085.2,208.6" fill="#0000a0" />
<polygon points="1080.4,208.2 1085.2,208.6 1089.6,206.5 1084.8,206.0" fill="#0000ff" />
<polygon points="1123.1,454.9 1127.8,455.6 1120.3,217.2 1115.4,216.7" fill="#0000ff" />
<polygon points="1127.8,455.6 1131.9,452.5 1124.5,215.0 1120.3,217.2" fill="#0000a0" />
<polygon points="1115.4,216.7 1120.3,217.2 1124.5,215.0 1119.6,214.5" fill="#0000ff" />
<polygon points="1157.3,460.1 1162.1,460.9 1156.0,230.1 1151.0,229.6" fill="#0000ff" />
<polygon points="1162.1,460.9 1166.1,457.6 1160.1,227.8 1156.0,230.1" fill="#0000a0" />
<polygon points="1151.0,229.6 1156.0,230.1 1160.1,227.8 1155.1,227.3" fill="#0000ff" />
<polygon points="1192.1,465.4 1197.0,466.2 1192.1,237.3 1187.0,236.8" fill="#0000ff" />
<polygon points="1197.0,466.2 1200.9,462.9 1196.1,234.9 1192.1,237.3" fill="#0000a0" />
<polygon points="1187.0,236.8 1192.1,237.3 1196.1,234.9 1191.1,234.4" fill="#0000ff" />
<polygon points="1227.5,470.8 1232.5,471.6 1229.1,258.9 1223.9,258.4" fill="#0000ff" />
<polygon points="1232.5,471.6 1236.3,468.3 1232.9,256.5 1229.1,258.9" fill="#0000a0" />
<polygon points="1223.9,258.4 1229.1,258.9 1232.9,256.5 1227.8,256.0" fill="#0000ff" />
<polygon points="1263.6,476.3 1268.7,477.1 1266.6,286.6 1261.4,286.1" fill="#0000ff" />
<polygon points="1268.7,477.1 1272.3,473.7 1270.3,284.0 1266.6,286.6" fill="#0000a0" />
<polygon points="1261.4,286.1 1266.6,286.6 1270.3,284.0 1265.1,283.5" fill="#0000ff" />
<polygon points="1300.2,481.9 1305.4,482.7 1304.5,307.1 1299.2,306.5" fill="#0000ff" />
<polygon points="1305.4,482.7 1308.9,479.2 1308.0,304.4 1304.5,307.1" fill="#0000a0" />
<polygon points="1299.2,306.5 1304.5,307.1 1308.0,304.4 1302.7,303.8" fill="#0000ff" />
<polyline points="948.8,141.4 982.3,161.1 1016.3,179.9 1050.3,191.6 1085.0,207.3 1120.0,215.9 1155.6,228.7 1191.6,235.8 1228.4,257.5 1265.8,285.0 1303.6,305.4" fill="none" stroke="#0000ff" stroke-width="2.1" stroke-linejoin="round" />
<polygon points="917.6,457.3 922.1,458.1 907.3,219.9 902.7,219.4" fill="#00ff00" />
<polygon points="922.1,458.1 927.0,454.9 912.5,217.6 907.3,219.9" fill="#00a000" />
<polygon points="902.7,219.4 907.3,219.9 912.5,217.6 907.9,217.2" fill="#00ff00" />
<polygon points="950.0,462.6 954.5,463.3 941.2,231.5 936.5,231.0" fill="#00ff00" />
<polygon points="954.5,463.3 959.3,460.1 946.3,229.2 941.2,231.5" fill="#00a000" />
<polygon points="936.5,231.0 941.2,231.5 946.3,229.2 941.6,228.7" fill="#00ff00" />
<polygon points="982.8,467.9 987.5,468.6 975.4,238.6 970.6,238.1" fill="#00ff00" />
<polygon points="987.5,468.6 992.2,465.3 980.3,236.2 975.4,238.6" fill="#00a000" />
<polygon points="970.6,238.1 975.4,238.6 980.3,236.2 975.6,235.7" fill="#00ff00" />
<polygon points="1016.3,473.2 1021.0,474.0 1010.2,246.0 1005.3,245.5" fill="#00ff00" />
<polygon points="1021.0,474.0 1025.6,470.7 1015.0,243.6 1010.2,246.0" fill="#00a000" />
<polygon points="1005.3,245.5 1010.2,246.0 1015.0,243.6 1010.1,243.1" fill="#00ff00" />
<polygon points="1050.3,478.7 1055.1,479.5 1046.1,268.2 1041.2,267.6" fill="#00ff00" />
<polygon points="1055.1,479.5 1059.6,476.1 1050.8,265.6 1046.1,268.2" fill="#00a000" />
<polygon points="1041.2,267.6 1046.1,268.2 1050.8,265.6 1045.9,265.1" fill="#00ff00" />
<polygon points="1085.0,484.3 1089.9,485.1 1082.1,277.1 1077.0,276.6" fill="#00ff00" />
<polygon points="1089.9,485.1 1094.3,481.7 1086.6,274.6 1082.1,277.1" fill="#00a000" />
<polygon points="1077.0,276.6 1082.1,277.1 1086.6,274.6 1081.6,274.0" fill="#00ff00" />
<polygon points="1120.2,490.0 1125.2,490.8 1118.5,283.1 1113.4,282.5" fill="#00ff00" />
<polygon points="1125.2,490.8 1129.5,487.3 1122.9,280.4 1118.5,283.1" fill="#00a000" />
<polygon points="1113.4,282.5 1118.5,283.1 1122.9,280.4 1117.8,279.9" fill="#00ff00" />
<polygon points="1156.1,495.8 1161.2,496.6 1155.8,299.0 1150.6,298.4" fill="#00ff00" />
<polygon points="1161.2,496.6 1165.3,493.0 1160.1,296.3 1155.8,299.0" fill="#00a000" />
<polygon points="1150.6,298.4 1155.8,299.0 1160.1,296.3 1154.9,295.7" fill="#00ff00" />
<polygon points="1192.6,501.6 1197.8,502.5 1193.6,306.9 1188.3,306.3" fill="#00ff00" />
<polygon points="1197.8,502.5 1201.8,498.9 1197.7,304.1 1193.6,306.9" fill="#00a000" />
<polygon points="1188.3,306.3 1193.6,306.9 1197.7,304.1 1192.4,303.5" fill="#00ff00" />
<polygon points="1229.8,507.6 1235.0,508.5 1232.5,350.4 1227.1,349.8" fill="#00ff00" />
<polygon points="1235.0,508.5 1238.9,504.8 1236.5,347.4 1232.5,350.4" fill="#00a000" />
<polygon points="1227.1,349.8 1232.5,350.4 1236.5,347.4 1231.2,346.8" fill="#00ff00" />
<polygon points="1267.7,513.7 1273.0,514.6 1271.8,393.9 1266.3,393.2" fill="#00ff00" />
<polygon points="1273.0,514.6 1276.8,510.9 1275.6,390.7 1271.8,393.9" fill="#00a000" />
<polygon points="1266.3,393.2 1271.8,393.9 1275.6,390.7 1270.2,390.0" fill="#00ff00" />
<polyline points="907.6,218.5 941.4,230.1 975.5,237.1 1010.2,244.5 1046.0,266.6 1081.8,275.6 1118.2,281.5 1155.4,297.4 1193.0,305.2 1231.8,348.6 1271.0,392.0" fill="none" stroke="#00ff00" stroke-width="2.1" stroke-linejoin="round" />
<polygon points="871.6,486.7 876.3,487.5 861.1,268.0 856.3,267.4" fill="#ff0000" />
<polygon points="876.3,487.5 881.6,484.1 866.6,265.4 861.1,268.0" fill="#a80000" />
<polygon points="856.3,267.4 861.1,268.0 866.6,265.4 861.9,264.9" fill="#ff0000" />
<polygon points="904.9,492.4 909.5,493.2 895.9,280.8 891.1,280.2" fill="#ff0000" />
<polygon points="909.5,493.2 914.8,489.7 901.3,278.2 895.9,280.8" fill="#a80000" />
<polygon points="891.1,280.2 895.9,280.8 901.3,278.2 896.5,277.6" fill="#ff0000" />
<polygon points="938.6,498.1 943.4,499.0 931.1,290.2 926.1,289.7" fill="#ff0000" />
<polygon points="943.4,499.0 948.5,495.4 936.4,287.6 931.1,290.2" fill="#a80000" />
<polygon points="926.1,289.7 931.1,290.2 936.4,287.6 931.5,287.0" fill="#ff0000" />
<polygon points="973.0,504.0 977.9,504.9 967.1,305.4 962.1,304.8" fill="#ff0000" />
<polygon points="977.9,504.9 982.9,501.3 972.3,302.7 967.1,305.4" fill="#a80000" />
<polygon points="962.1,304.8 967.1,305.4 972.3,302.7 967.3,302.1" fill="#ff0000" />
<polygon points="1008.1,510.0 1013.0,510.8 1003.8,323.7 998.8,323.1" fill="#ff0000" />
<polygon points="1013.0,510.8 1017.9,507.2 1008.9,320.9 1003.8,323.7" fill="#a80000" />
<polygon points="998.8,323.1 1003.8,323.7 1008.9,320.9 1003.9,320.2" fill="#ff0000" />
<polygon points="1043.7,516.1 1048.8,517.0 1041.0,339.9 1035.9,339.3" fill="#ff0000" />
<polygon points="1048.8,517.0 1053.5,513.3 1046.0,336.9 1041.0,339.9" fill="#a80000" />
<polygon points="1035.9,339.3 1041.0,339.9 1046.0,336.9 1040.8,336.3" fill="#ff0000" />
<polygon points="1080.0,522.3 1085.2,523.2 1078.7,354.0 1073.4,353.3" fill="#ff0000" />
<polygon points="1085.2,523.2 1089.8,519.4 1083.5,350.9 1078.7,354.0" fill="#a80000" />
<polygon points="1073.4,353.3 1078.7,354.0 1083.5,350.9 1078.2,350.2" fill="#ff0000" />
<polygon points="1117.0,528.6 1122.3,529.5 1117.0,369.4 1111.7,368.7" fill="#ff0000" />
<polygon points="1122.3,529.5 1126.8,525.7 1121.7,366.2 1117.0,369.4" fill="#a80000" />
<polygon points="1111.7,368.7 1117.0,369.4 1121.7,366.2 1116.3,365.5" fill="#ff0000" />
<polygon points="1154.7,535.1 1160.1,536.0 1155.9,384.3 1150.5,383.5" fill="#ff0000" />
<polygon points="1160.1,536.0 1164.4,532.1 1160.4,381.0 1155.9,384.3" fill="#a80000" />
<polygon points="1150.5,383.5 1155.9,384.3 1160.4,381.0 1155.0,380.3" fill="#ff0000" />
<polygon points="1193.1,541.6 1198.6,542.5 1195.8,412.3 1190.2,411.6" fill="#ff0000" />
<polygon points="1198.6,542.5 1202.8,538.6 1200.1,408.9 1195.8,412.3" fill="#a80000" />
<polygon points="1190.2,411.6 1195.8,412.3 1200.1,408.9 1194.6,408.2" fill="#ff0000" />
<polygon points="1232.3,548.3 1237.8,549.3 1236.9,488.1 1231.3,487.2" fill="#ff0000" />
<polygon points="1237.8,549.3 1241.9,545.2 1241.0,484.3 1236.9,488.1" fill="#a80000" />
<polygon points="1231.3,487.2 1236.9,488.1 1241.0,484.3 1235.4,483.4" fill="#ff0000" />
<polyline points="861.5,266.4 896.2,279.2 931.3,288.6 967.2,303.7 1003.8,322.0 1040.9,338.1 1078.5,352.1 1116.7,367.4 1155.5,382.3 1195.2,410.3 1236.1,485.7" fill="none" stroke="#ff0000" stroke-width="2.1" stroke-linejoin="round" />
<line x1="835.8" y1="498.0" x2="1238.6" y2="568.7" stroke="#000" stroke-width="1.5" />
<line x1="1238.6" y1="568.7" x2="1392.5" y2="413.4" stroke="#000" stroke-width="1.5" />
<line x1="1392.5" y1="413.4" x2="1395.4" y2="20.3" stroke="#000" stroke-width="1.5" />
<line x1="1218.4" y1="565.1" x2="1218.2" y2="555.6" stroke="#000" stroke-width="1.3" />
<line x1="1198.4" y1="561.6" x2="1198.3" y2="556.5" stroke="#000" stroke-width="1.3" />
<line x1="1178.6" y1="558.1" x2="1178.4" y2="548.7" stroke="#000" stroke-width="1.3" />
<line x1="1159.0" y1="554.7" x2="1158.9" y2="549.6" stroke="#000" stroke-width="1.3" />
<line x1="1139.6" y1="551.3" x2="1139.3" y2="541.9" stroke="#000" stroke-width="1.3" />
<line x1="1120.4" y1="547.9" x2="1120.2" y2="542.9" stroke="#000" stroke-width="1.3" />
<line x1="1101.3" y1="544.6" x2="1101.0" y2="535.2" stroke="#000" stroke-width="1.3" />
<line x1="1082.4" y1="541.3" x2="1082.2" y2="536.3" stroke="#000" stroke-width="1.3" />
<line x1="1063.7" y1="538.0" x2="1063.4" y2="528.7" stroke="#000" stroke-width="1.3" />
<line x1="1045.2" y1="534.7" x2="1045.0" y2="529.8" stroke="#000" stroke-width="1.3" />
<line x1="1026.9" y1="531.5" x2="1026.4" y2="522.3" stroke="#000" stroke-width="1.3" />
<line x1="1008.7" y1="528.3" x2="1008.5" y2="523.4" stroke="#000" stroke-width="1.3" />
<line x1="990.7" y1="525.2" x2="990.2" y2="516.1" stroke="#000" stroke-width="1.3" />
<line x1="972.9" y1="522.0" x2="972.6" y2="517.2" stroke="#000" stroke-width="1.3" />
<line x1="955.2" y1="518.9" x2="954.7" y2="509.9" stroke="#000" stroke-width="1.3" />
<line x1="937.7" y1="515.9" x2="937.4" y2="511.0" stroke="#000" stroke-width="1.3" />
<line x1="920.3" y1="512.8" x2="919.7" y2="503.9" stroke="#000" stroke-width="1.3" />
<line x1="903.1" y1="509.8" x2="902.8" y2="505.0" stroke="#000" stroke-width="1.3" />
<line x1="886.0" y1="506.8" x2="885.4" y2="497.9" stroke="#000" stroke-width="1.3" />
<line x1="869.1" y1="503.8" x2="868.8" y2="499.1" stroke="#000" stroke-width="1.3" />
<line x1="852.4" y1="500.9" x2="851.8" y2="492.1" stroke="#000" stroke-width="1.3" />
<line x1="1256.9" y1="550.1" x2="1256.8" y2="542.2" stroke="#000" stroke-width="1.2" />
<line x1="1274.5" y1="532.4" x2="1274.5" y2="526.7" stroke="#000" stroke-width="1.2" />
<line x1="1291.4" y1="515.4" x2="1291.4" y2="507.7" stroke="#000" stroke-width="1.2" />
<line x1="1307.6" y1="499.1" x2="1307.6" y2="493.6" stroke="#000" stroke-width="1.2" />
<line x1="1323.1" y1="483.4" x2="1323.1" y2="476.0" stroke="#000" stroke-width="1.2" />
<line x1="1338.1" y1="468.3" x2="1338.1" y2="463.0" stroke="#000" stroke-width="1.2" />
<line x1="1352.5" y1="453.8" x2="1352.5" y2="446.6" stroke="#000" stroke-width="1.2" />
<line x1="1366.3" y1="439.8" x2="1366.3" y2="434.7" stroke="#000" stroke-width="1.2" />
<line x1="1379.6" y1="426.4" x2="1379.7" y2="419.5" stroke="#000" stroke-width="1.2" />
<line x1="1392.5" y1="413.4" x2="1383.0" y2="412.2" stroke="#000" stroke-width="1.4" />
<line x1="1392.7" y1="386.8" x2="1387.8" y2="386.2" stroke="#000" stroke-width="1.4" />
<line x1="1392.9" y1="359.9" x2="1383.3" y2="358.8" stroke="#000" stroke-width="1.4" />
<line x1="1393.1" y1="332.9" x2="1388.2" y2="332.3" stroke="#000" stroke-width="1.4" />
<line x1="1393.3" y1="305.6" x2="1383.7" y2="304.5" stroke="#000" stroke-width="1.4" />
<line x1="1393.5" y1="278.1" x2="1388.6" y2="277.6" stroke="#000" stroke-width="1.4" />
<line x1="1393.7" y1="250.3" x2="1384.0" y2="249.4" stroke="#000" stroke-width="1.4" />
<line x1="1393.9" y1="222.4" x2="1388.9" y2="222.0" stroke="#000" stroke-width="1.4" />
<line x1="1394.1" y1="194.2" x2="1384.3" y2="193.4" stroke="#000" stroke-width="1.4" />
<line x1="1394.3" y1="165.8" x2="1389.3" y2="165.5" stroke="#000" stroke-width="1.4" />
<line x1="1394.5" y1="137.2" x2="1384.7" y2="136.5" stroke="#000" stroke-width="1.4" />
<line x1="1394.8" y1="108.3" x2="1389.7" y2="108.0" stroke="#000" stroke-width="1.4" />
<line x1="1395.0" y1="79.2" x2="1385.0" y2="78.7" stroke="#000" stroke-width="1.4" />
<line x1="1395.2" y1="49.9" x2="1390.1" y2="49.7" stroke="#000" stroke-width="1.4" />
<line x1="1395.4" y1="20.3" x2="1385.4" y2="19.9" stroke="#000" stroke-width="1.4" />
<line x1="72.4" y1="1263.6" x2="38.3" y2="843.8" stroke="#dcdcdc" stroke-width="1" />
<line x1="119.2" y1="1233.6" x2="89.5" y2="828.3" stroke="#dcdcdc" stroke-width="1" />
<line x1="162.7" y1="1205.7" x2="136.9" y2="814.1" stroke="#dcdcdc" stroke-width="1" />
<line x1="203.1" y1="1179.8" x2="180.7" y2="800.8" stroke="#dcdcdc" stroke-width="1" />
<line x1="240.9" y1="1155.5" x2="221.5" y2="788.5" stroke="#dcdcdc" stroke-width="1" />
<line x1="44.5" y1="1242.9" x2="257.3" y2="1112.8" stroke="#dcdcdc" stroke-width="1" />
<line x1="38.2" y1="1168.5" x2="254.2" y2="1049.4" stroke="#dcdcdc" stroke-width="1" />
<line x1="31.6" y1="1092.3" x2="250.9" y2="984.8" stroke="#dcdcdc" stroke-width="1" />
<line x1="25.0" y1="1014.1" x2="247.6" y2="918.8" stroke="#dcdcdc" stroke-width="1" />
<line x1="18.1" y1="934.1" x2="244.3" y2="851.5" stroke="#dcdcdc" stroke-width="1" />
<line x1="588.0" y1="1190.2" x2="589.0" y2="797.1" stroke="#dcdcdc" stroke-width="1" />
<line x1="554.1" y1="1185.5" x2="553.0" y2="795.6" stroke="#dcdcdc" stroke-width="1" />
<line x1="520.8" y1="1180.8" x2="517.6" y2="794.2" stroke="#dcdcdc" stroke-width="1" />
<line x1="488.0" y1="1176.2" x2="482.9" y2="792.7" stroke="#dcdcdc" stroke-width="1" />
<line x1="455.8" y1="1171.7" x2="448.7" y2="791.3" stroke="#dcdcdc" stroke-width="1" />
<line x1="424.2" y1="1167.2" x2="415.2" y2="789.9" stroke="#dcdcdc" stroke-width="1" />
<line x1="393.0" y1="1162.8" x2="382.3" y2="788.6" stroke="#dcdcdc" stroke-width="1" />
<line x1="362.3" y1="1158.5" x2="349.9" y2="787.2" stroke="#dcdcdc" stroke-width="1" />
<line x1="332.2" y1="1154.3" x2="318.1" y2="785.9" stroke="#dcdcdc" stroke-width="1" />
<line x1="302.5" y1="1150.1" x2="286.8" y2="784.6" stroke="#dcdcdc" stroke-width="1" />
<line x1="273.3" y1="1146.0" x2="256.0" y2="783.3" stroke="#dcdcdc" stroke-width="1" />
<line x1="605.3" y1="1158.7" x2="257.3" y2="1112.8" stroke="#dcdcdc" stroke-width="1" />
<line x1="605.7" y1="1089.7" x2="254.2" y2="1049.4" stroke="#dcdcdc" stroke-width="1" />
<line x1="606.0" y1="1019.2" x2="250.9" y2="984.8" stroke="#dcdcdc" stroke-width="1" />
<line x1="606.4" y1="947.1" x2="247.6" y2="918.8" stroke="#dcdcdc" stroke-width="1" />
<line x1="606.8" y1="873.3" x2="244.3" y2="851.5" stroke="#dcdcdc" stroke-width="1" />
<line x1="464.1" y1="1335.1" x2="72.4" y2="1263.6" stroke="#dcdcdc" stroke-width="1" />
<line x1="499.9" y1="1298.9" x2="119.2" y2="1233.6" stroke="#dcdcdc" stroke-width="1" />
<line x1="533.0" y1="1265.5" x2="162.7" y2="1205.7" stroke="#dcdcdc" stroke-width="1" />
<line x1="563.5" y1="1234.7" x2="203.1" y2="1179.8" stroke="#dcdcdc" stroke-width="1" />
<line x1="591.8" y1="1206.1" x2="240.9" y2="1155.5" stroke="#dcdcdc" stroke-width="1" />
<line x1="425.0" y1="1350.6" x2="588.0" y2="1190.2" stroke="#dcdcdc" stroke-width="1" />
<line x1="385.5" y1="1343.2" x2="554.1" y2="1185.5" stroke="#dcdcdc" stroke-width="1" />
<line x1="346.8" y1="1335.9" x2="520.8" y2="1180.8" stroke="#dcdcdc" stroke-width="1" />
<line x1="308.9" y1="1328.7" x2="488.0" y2="1176.2" stroke="#dcdcdc" stroke-width="1" />
<line x1="271.8" y1="1321.7" x2="455.8" y2="1171.7" stroke="#dcdcdc" stroke-width="1" />
<line x1="235.4" y1="1314.9" x2="424.2" y2="1167.2" stroke="#dcdcdc" stroke-width="1" />
<line x1="199.8" y1="1308.2" x2="393.0" y2="1162.8" stroke="#dcdcdc" stroke-width="1" />
<line x1="164.8" y1="1301.6" x2="362.3" y2="1158.5" stroke="#dcdcdc" stroke-width="1" />
<line x1="130.5" y1="1295.1" x2="332.2" y2="1154.3" stroke="#dcdcdc" stroke-width="1" />
<line x1="96.9" y1="1288.8" x2="302.5" y2="1150.1" stroke="#dcdcdc" stroke-width="1" />
<line x1="63.9" y1="1282.6" x2="273.3" y2="1146.0" stroke="#dcdcdc" stroke-width="1" />
<line x1="11.1" y1="852.0" x2="240.9" y2="782.7" stroke="#8a8a8a" stroke-width="1" />
<line x1="240.9" y1="782.7" x2="607.2" y2="797.9" stroke="#8a8a8a" stroke-width="1" />
<line x1="47.6" y1="1279.5" x2="11.1" y2="852.0" stroke="#8a8a8a" stroke-width="1" />
<line x1="258.9" y1="1144.0" x2="240.9" y2="782.7" stroke="#666" stroke-width="1" />
<line x1="47.6" y1="1279.5" x2="258.9" y2="1144.0" stroke="#666" stroke-width="1" />
<line x1="258.9" y1="1144.0" x2="605.1" y2="1192.6" stroke="#777" stroke-width="1" />
<polygon points="570.3,1204.9 575.0,1205.6 575.1,1069.5 570.3,1069.0" fill="#ff0000" />
<polygon points="575.0,1205.6 578.3,1202.3 578.5,1066.8 575.1,1069.5" fill="#a80000" />
<polygon points="570.3,1069.0 575.1,1069.5 578.5,1066.8 573.7,1066.3" fill="#ff0000" />
<polygon points="535.9,1199.9 540.5,1200.6 539.8,1061.3 535.1,1060.8" fill="#ff0000" />
<polygon points="540.5,1200.6 544.0,1197.4 543.4,1058.6 539.8,1061.3" fill="#a80000" />
<polygon points="535.1,1060.8 539.8,1061.3 543.4,1058.6 538.7,1058.1" fill="#ff0000" />
<polygon points="502.1,1195.1 506.7,1195.7 505.2,1060.6 500.6,1060.1" fill="#ff0000" />
<polygon points="506.7,1195.7 510.2,1192.5 508.9,1057.9 505.2,1060.6" fill="#a80000" />
<polygon points="500.6,1060.1 505.2,1060.6 508.9,1057.9 504.3,1057.4" fill="#ff0000" />
<polygon points="468.9,1190.3 473.4,1190.9 471.3,1061.3 466.8,1060.8" fill="#ff0000" />
<polygon points="473.4,1190.9 477.0,1187.8 475.1,1058.6 471.3,1061.3" fill="#a80000" />
<polygon points="466.8,1060.8 471.3,1061.3 475.1,1058.6 470.5,1058.1" fill="#ff0000" />
<polygon points="436.2,1185.5 440.6,1186.2 437.5,1036.5 433.0,1036.0" fill="#ff0000" />
<polygon points="440.6,1186.2 444.4,1183.1 441.3,1034.0 437.5,1036.5" fill="#a80000" />
<polygon points="433.0,1036.0 437.5,1036.5 441.3,1034.0 436.9,1033.5" fill="#ff0000" />
<polygon points="404.1,1180.9 408.4,1181.5 403.6,998.4 399.2,998.0" fill="#ff0000" />
<polygon points="408.4,1181.5 412.3,1178.5 407.7,996.0 403.6,998.4" fill="#a80000" />
<polygon points="399.2,998.0 403.6,998.4 407.7,996.0 403.2,995.6" fill="#ff0000" />
<polygon points="372.6,1176.3 376.8,1176.9 370.0,958.2 365.6,957.8" fill="#ff0000" />
<polygon points="376.8,1176.9 380.8,1173.9 374.1,956.0 370.0,958.2" fill="#a80000" />
<polygon points="365.6,957.8 370.0,958.2 374.1,956.0 369.7,955.6" fill="#ff0000" />
<polygon points="341.5,1171.8 345.7,1172.4 337.6,948.8 333.3,948.5" fill="#ff0000" />
<polygon points="345.7,1172.4 349.7,1169.5 341.8,946.7 337.6,948.8" fill="#a80000" />
<polygon points="333.3,948.5 337.6,948.8 341.8,946.7 337.5,946.4" fill="#ff0000" />
<polygon points="311.0,1167.4 315.1,1168.0 303.9,896.1 299.6,895.8" fill="#ff0000" />
<polygon points="315.1,1168.0 319.2,1165.1 308.3,894.2 303.9,896.1" fill="#a80000" />
<polygon points="299.6,895.8 303.9,896.1 308.3,894.2 304.0,893.9" fill="#ff0000" />
<polygon points="280.9,1163.1 285.0,1163.6 272.0,882.1 267.8,881.8" fill="#ff0000" />
<polygon points="285.0,1163.6 289.2,1160.8 276.5,880.2 272.0,882.1" fill="#a80000" />
<polygon points="267.8,881.8 272.0,882.1 276.5,880.2 272.3,880.0" fill="#ff0000" />
<polygon points="251.4,1158.8 255.3,1159.4 239.9,853.9 235.7,853.6" fill="#ff0000" />
<polygon points="255.3,1159.4 259.7,1156.5 244.5,852.2 239.9,853.9" fill="#a80000" />
<polygon points="235.7,853.6 239.9,853.9 244.5,852.2 240.4,851.9" fill="#ff0000" />
<polyline points="240.1,852.9 272.2,881.0 304.0,895.0 337.6,947.6 369.8,956.9 403.4,997.0 437.2,1035.0 470.9,1059.7 504.8,1059.0 539.2,1059.7 574.4,1067.9" fill="none" stroke="#ff0000" stroke-width="2.0" stroke-linejoin="round" />
<polygon points="541.3,1233.4 546.1,1234.1 545.6,1104.8 540.7,1104.2" fill="#00ff00" />
<polygon points="546.1,1234.1 549.7,1230.6 549.3,1101.8 545.6,1104.8" fill="#00a000" />
<polygon points="540.7,1104.2 545.6,1104.8 549.3,1101.8 544.3,1101.2" fill="#00ff00" />
<polygon points="505.9,1228.0 510.6,1228.7 509.4,1104.8 504.6,1104.2" fill="#00ff00" />
<polygon points="510.6,1228.7 514.3,1225.2 513.2,1101.8 509.4,1104.8" fill="#00a000" />
<polygon points="504.6,1104.2 509.4,1104.8 513.2,1101.8 508.4,1101.2" fill="#00ff00" />
<polygon points="471.1,1222.6 475.8,1223.3 473.8,1098.9 469.1,1098.3" fill="#00ff00" />
<polygon points="475.8,1223.3 479.6,1219.9 477.7,1095.9 473.8,1098.9" fill="#00a000" />
<polygon points="469.1,1098.3 473.8,1098.9 477.7,1095.9 473.0,1095.4" fill="#00ff00" />
<polygon points="436.9,1217.4 441.5,1218.1 439.0,1096.9 434.3,1096.4" fill="#00ff00" />
<polygon points="441.5,1218.1 445.5,1214.7 443.0,1094.0 439.0,1096.9" fill="#00a000" />
<polygon points="434.3,1096.4 439.0,1096.9 443.0,1094.0 438.4,1093.5" fill="#00ff00" />
<polygon points="403.4,1212.3 407.9,1213.0 404.2,1073.5 399.6,1072.9" fill="#00ff00" />
<polygon points="407.9,1213.0 411.9,1209.6 408.3,1070.7 404.2,1073.5" fill="#00a000" />
<polygon points="399.6,1072.9 404.2,1073.5 408.3,1070.7 403.8,1070.2" fill="#00ff00" />
<polygon points="370.4,1207.2 374.8,1207.9 368.9,1020.5 364.3,1020.0" fill="#00ff00" />
<polygon points="374.8,1207.9 379.0,1204.6 373.2,1018.0 368.9,1020.5" fill="#00a000" />
<polygon points="364.3,1020.0 368.9,1020.5 373.2,1018.0 368.6,1017.5" fill="#00ff00" />
<polygon points="338.0,1202.3 342.3,1202.9 334.7,996.9 330.2,996.5" fill="#00ff00" />
<polygon points="342.3,1202.9 346.6,1199.7 339.1,994.5 334.7,996.9" fill="#00a000" />
<polygon points="330.2,996.5 334.7,996.9 339.1,994.5 334.7,994.1" fill="#00ff00" />
<polygon points="306.1,1197.4 310.4,1198.0 299.8,946.5 295.4,946.1" fill="#00ff00" />
<polygon points="310.4,1198.0 314.8,1194.9 304.4,944.3 299.8,946.5" fill="#00a000" />
<polygon points="295.4,946.1 299.8,946.5 304.4,944.3 300.0,943.9" fill="#00ff00" />
<polygon points="274.8,1192.6 279.0,1193.2 266.2,921.9 261.9,921.6" fill="#00ff00" />
<polygon points="279.0,1193.2 283.5,1190.1 270.9,919.8 266.2,921.9" fill="#00a000" />
<polygon points="261.9,921.6 266.2,921.9 270.9,919.8 266.6,919.5" fill="#00ff00" />
<polygon points="244.0,1187.9 248.1,1188.5 233.4,905.5 229.1,905.1" fill="#00ff00" />
<polygon points="248.1,1188.5 252.7,1185.4 238.2,903.5 233.4,905.5" fill="#00a000" />
<polygon points="229.1,905.1 233.4,905.5 238.2,903.5 234.0,903.2" fill="#00ff00" />
<polygon points="213.7,1183.3 217.8,1183.9 199.7,865.6 195.5,865.4" fill="#00ff00" />
<polygon points="217.8,1183.9 222.4,1180.8 204.7,863.8 199.7,865.6" fill="#00a000" />
<polygon points="195.5,865.4 199.7,865.6 204.7,863.8 200.4,863.6" fill="#00ff00" />
<polyline points="200.1,864.6 233.7,904.3 266.4,920.7 299.9,945.2 334.7,995.5 368.7,1019.0 404.0,1071.8 438.7,1095.2 473.4,1097.1 508.9,1103.0 545.0,1103.0" fill="none" stroke="#00ff00" stroke-width="2.0" stroke-linejoin="round" />
<polygon points="510.0,1264.1 515.0,1264.9 514.0,1157.1 508.9,1156.4" fill="#0000ff" />
<polygon points="515.0,1264.9 518.9,1261.0 517.9,1153.8 514.0,1157.1" fill="#0000a0" />
<polygon points="508.9,1156.4 514.0,1157.1 517.9,1153.8 512.9,1153.1" fill="#0000ff" />
<polygon points="473.5,1258.1 478.4,1258.9 476.8,1156.0 471.9,1155.3" fill="#0000ff" />
<polygon points="478.4,1258.9 482.4,1255.2 480.9,1152.7 476.8,1156.0" fill="#0000a0" />
<polygon points="471.9,1155.3 476.8,1156.0 480.9,1152.7 476.0,1152.0" fill="#0000ff" />
<polygon points="437.7,1252.3 442.5,1253.1 440.2,1144.2 435.3,1143.5" fill="#0000ff" />
<polygon points="442.5,1253.1 446.6,1249.4 444.4,1140.9 440.2,1144.2" fill="#0000a0" />
<polygon points="435.3,1143.5 440.2,1144.2 444.4,1140.9 439.6,1140.3" fill="#0000ff" />
<polygon points="402.5,1246.6 407.2,1247.4 404.4,1141.6 399.6,1141.0" fill="#0000ff" />
<polygon points="407.2,1247.4 411.5,1243.8 408.8,1138.4 404.4,1141.6" fill="#0000a0" />
<polygon points="399.6,1141.0 404.4,1141.6 408.8,1138.4 404.0,1137.8" fill="#0000ff" />
<polygon points="368.0,1241.0 372.6,1241.8 369.4,1141.6 364.7,1141.0" fill="#0000ff" />
<polygon points="372.6,1241.8 377.0,1238.2 373.9,1138.4 369.4,1141.6" fill="#0000a0" />
<polygon points="364.7,1141.0 369.4,1141.6 373.9,1138.4 369.2,1137.8" fill="#0000ff" />
<polygon points="334.1,1235.5 338.7,1236.3 333.5,1100.6 328.9,1100.0" fill="#0000ff" />
<polygon points="338.7,1236.3 343.1,1232.8 338.1,1097.6 333.5,1100.6" fill="#0000a0" />
<polygon points="328.9,1100.0 333.5,1100.6 338.1,1097.6 333.5,1097.0" fill="#0000ff" />
<polygon points="300.8,1230.1 305.3,1230.9 296.8,1034.6 292.2,1034.1" fill="#0000ff" />
<polygon points="305.3,1230.9 309.9,1227.4 301.6,1031.9 296.8,1034.6" fill="#0000a0" />
<polygon points="292.2,1034.1 296.8,1034.6 301.6,1031.9 297.0,1031.4" fill="#0000ff" />
<polygon points="268.1,1224.8 272.5,1225.5 261.1,990.0 256.6,989.5" fill="#0000ff" />
<polygon points="272.5,1225.5 277.2,1222.1 266.0,987.5 261.1,990.0" fill="#0000a0" />
<polygon points="256.6,989.5 261.1,990.0 266.0,987.5 261.5,987.1" fill="#0000ff" />
<polygon points="236.0,1219.6 240.3,1220.3 226.0,953.5 221.5,953.1" fill="#0000ff" />
<polygon points="240.3,1220.3 245.1,1217.0 231.1,951.3 226.0,953.5" fill="#0000a0" />
<polygon points="221.5,953.1 226.0,953.5 231.1,951.3 226.6,950.9" fill="#0000ff" />
<polygon points="204.4,1214.5 208.7,1215.2 192.3,936.0 187.9,935.6" fill="#0000ff" />
<polygon points="208.7,1215.2 213.5,1211.9 197.5,933.8 192.3,936.0" fill="#0000a0" />
<polygon points="187.9,935.6 192.3,936.0 197.5,933.8 193.1,933.4" fill="#0000ff" />
<polygon points="173.4,1209.5 177.6,1210.2 156.5,878.1 152.1,877.8" fill="#0000ff" />
<polygon points="177.6,1210.2 182.5,1206.9 161.8,876.2 156.5,878.1" fill="#0000a0" />
<polygon points="152.1,877.8 156.5,878.1 161.8,876.2 157.5,875.9" fill="#0000ff" />
<polyline points="157.0,877.0 192.7,934.7 226.3,952.2 261.3,988.5 296.9,1033.0 333.5,1098.8 369.3,1139.7 404.2,1139.7 439.9,1142.2 476.4,1154.0 513.5,1155.1" fill="none" stroke="#0000ff" stroke-width="2.0" stroke-linejoin="round" />
<polygon points="476.2,1297.2 481.3,1298.1 480.1,1218.2 474.9,1217.4" fill="#00ffff" />
<polygon points="481.3,1298.1 485.5,1294.0 484.4,1214.4 480.1,1218.2" fill="#00a0a0" />
<polygon points="474.9,1217.4 480.1,1218.2 484.4,1214.4 479.2,1213.6" fill="#00ffff" />
<polygon points="438.5,1290.8 443.6,1291.6 442.0,1216.5 436.9,1215.7" fill="#00ffff" />
<polygon points="443.6,1291.6 447.9,1287.6 446.4,1212.7 442.0,1216.5" fill="#00a0a0" />
<polygon points="436.9,1215.7 442.0,1216.5 446.4,1212.7 441.3,1212.0" fill="#00ffff" />
<polygon points="401.6,1284.4 406.6,1285.3 404.7,1214.7 399.7,1214.0" fill="#00ffff" />
<polygon points="406.6,1285.3 411.0,1281.3 409.2,1211.0 404.7,1214.7" fill="#00a0a0" />
<polygon points="399.7,1214.0 404.7,1214.7 409.2,1211.0 404.2,1210.3" fill="#00ffff" />
<polygon points="365.4,1278.2 370.2,1279.0 368.1,1212.6 363.2,1211.8" fill="#00ffff" />
<polygon points="370.2,1279.0 374.8,1275.1 372.7,1209.0 368.1,1212.6" fill="#00a0a0" />
<polygon points="363.2,1211.8 368.1,1212.6 372.7,1209.0 367.8,1208.2" fill="#00ffff" />
<polygon points="329.9,1272.1 334.6,1272.9 331.3,1187.3 326.5,1186.6" fill="#00ffff" />
<polygon points="334.6,1272.9 339.3,1269.0 336.1,1183.8 331.3,1187.3" fill="#00a0a0" />
<polygon points="326.5,1186.6 331.3,1187.3 336.1,1183.8 331.3,1183.1" fill="#00ffff" />
<polygon points="295.0,1266.1 299.7,1266.9 294.0,1138.6 289.2,1137.9" fill="#00ffff" />
<polygon points="299.7,1266.9 304.5,1263.1 299.0,1135.3 294.0,1138.6" fill="#00a0a0" />
<polygon points="289.2,1137.9 294.0,1138.6 299.0,1135.3 294.2,1134.7" fill="#00ffff" />
<polygon points="260.8,1260.2 265.4,1261.0 255.5,1063.7 250.8,1063.2" fill="#00ffff" />
<polygon points="265.4,1261.0 270.3,1257.2 260.7,1060.8 255.5,1063.7" fill="#00a0a0" />
<polygon points="250.8,1063.2 255.5,1063.7 260.7,1060.8 256.0,1060.3" fill="#00ffff" />
<polygon points="227.2,1254.4 231.7,1255.2 217.7,1001.2 213.0,1000.8" fill="#00ffff" />
<polygon points="231.7,1255.2 236.8,1251.5 223.0,998.6 217.7,1001.2" fill="#00a0a0" />
<polygon points="213.0,1000.8 217.7,1001.2 223.0,998.6 218.4,998.2" fill="#00ffff" />
<polygon points="194.2,1248.7 198.7,1249.5 182.0,974.8 177.4,974.3" fill="#00ffff" />
<polygon points="198.7,1249.5 203.8,1245.9 187.5,972.3 182.0,974.8" fill="#00a0a0" />
<polygon points="177.4,974.3 182.0,974.8 187.5,972.3 182.9,971.9" fill="#00ffff" />
<polygon points="161.9,1243.1 166.2,1243.9 145.8,933.7 141.3,933.3" fill="#00ffff" />
<polygon points="166.2,1243.9 171.5,1240.3 151.4,931.5 145.8,933.7" fill="#00a0a0" />
<polygon points="141.3,933.3 145.8,933.7 151.4,931.5 146.9,931.1" fill="#00ffff" />
<polygon points="130.1,1237.7 134.3,1238.4 110.7,904.4 106.2,904.1" fill="#00ffff" />
<polygon points="134.3,1238.4 139.7,1234.9 116.4,902.3 110.7,904.4" fill="#00a0a0" />
<polygon points="106.2,904.1 110.7,904.4 116.4,902.3 112.0,902.0" fill="#00ffff" />
<polyline points="111.3,903.2 146.4,932.4 182.5,973.3 218.0,999.7 255.8,1062.0 294.1,1136.6 331.3,1185.2 367.9,1210.4 404.4,1212.5 441.7,1214.2 479.7,1215.9" fill="none" stroke="#00ffff" stroke-width="2.0" stroke-linejoin="round" />
<polygon points="439.5,1333.3 444.8,1334.2 442.1,1209.1 436.7,1208.3" fill="#ff00ff" />
<polygon points="444.8,1334.2 449.3,1329.7 446.8,1205.1 442.1,1209.1" fill="#a000a0" />
<polygon points="436.7,1208.3 442.1,1209.1 446.8,1205.1 441.4,1204.3" fill="#ff00ff" />
<polygon points="400.6,1326.1 405.8,1327.1 402.2,1196.8 396.9,1196.0" fill="#ff00ff" />
<polygon points="405.8,1327.1 410.5,1322.7 407.1,1193.0 402.2,1196.8" fill="#a000a0" />
<polygon points="396.9,1196.0 402.2,1196.8 407.1,1193.0 401.8,1192.2" fill="#ff00ff" />
<polygon points="362.5,1319.2 367.6,1320.1 363.6,1199.6 358.4,1198.8" fill="#ff00ff" />
<polygon points="367.6,1320.1 372.4,1315.8 368.5,1195.8 363.6,1199.6" fill="#a000a0" />
<polygon points="358.4,1198.8 363.6,1199.6 368.5,1195.8 363.4,1195.0" fill="#ff00ff" />
<polygon points="325.2,1312.3 330.2,1313.2 326.1,1210.8 321.0,1210.0" fill="#ff00ff" />
<polygon points="330.2,1313.2 335.2,1309.0 331.2,1207.0 326.1,1210.8" fill="#a000a0" />
<polygon points="321.0,1210.0 326.1,1210.8 331.2,1207.0 326.2,1206.2" fill="#ff00ff" />
<polygon points="288.6,1305.6 293.5,1306.5 288.2,1190.2 283.2,1189.5" fill="#ff00ff" />
<polygon points="293.5,1306.5 298.6,1302.3 293.4,1186.5 288.2,1190.2" fill="#a000a0" />
<polygon points="283.2,1189.5 288.2,1190.2 293.4,1186.5 288.5,1185.8" fill="#ff00ff" />
<polygon points="252.7,1299.0 257.5,1299.9 249.2,1138.7 244.3,1138.0" fill="#ff00ff" />
<polygon points="257.5,1299.9 262.8,1295.8 254.7,1135.2 249.2,1138.7" fill="#a000a0" />
<polygon points="244.3,1138.0 249.2,1138.7 254.7,1135.2 249.8,1134.6" fill="#ff00ff" />
<polygon points="217.5,1292.6 222.3,1293.5 209.6,1071.2 204.7,1070.6" fill="#ff00ff" />
<polygon points="222.3,1293.5 227.6,1289.4 215.2,1068.2 209.6,1071.2" fill="#a000a0" />
<polygon points="204.7,1070.6 209.6,1071.2 215.2,1068.2 210.3,1067.6" fill="#ff00ff" />
<polygon points="183.0,1286.3 187.7,1287.1 169.8,1002.9 165.0,1002.4" fill="#ff00ff" />
<polygon points="187.7,1287.1 193.1,1283.2 175.7,1000.2 169.8,1002.9" fill="#a000a0" />
<polygon points="165.0,1002.4 169.8,1002.9 175.7,1000.2 170.9,999.7" fill="#ff00ff" />
<polygon points="149.2,1280.1 153.7,1280.9 132.7,972.4 128.0,972.0" fill="#ff00ff" />
<polygon points="153.7,1280.9 159.3,1277.0 138.7,969.8 132.7,972.4" fill="#a000a0" />
<polygon points="128.0,972.0 132.7,972.4 138.7,969.8 133.9,969.4" fill="#ff00ff" />
<polygon points="116.0,1274.0 120.4,1274.8 97.0,956.1 92.4,955.6" fill="#ff00ff" />
<polygon points="120.4,1274.8 126.1,1271.0 103.1,953.6 97.0,956.1" fill="#a000a0" />
<polygon points="92.4,955.6 97.0,956.1 103.1,953.6 98.5,953.2" fill="#ff00ff" />
<polygon points="83.4,1268.0 87.8,1268.8 62.3,945.5 57.7,945.1" fill="#ff00ff" />
<polygon points="87.8,1268.8 93.5,1265.0 68.5,943.1 62.3,945.5" fill="#a000a0" />
<polygon points="57.7,945.1 62.3,945.5 68.5,943.1 64.0,942.7" fill="#ff00ff" />
<polyline points="63.1,944.1 97.7,954.6 133.3,970.9 170.4,1001.3 210.0,1069.4 249.5,1136.6 288.3,1188.0 326.1,1208.5 363.5,1197.3 402.0,1194.5 441.8,1206.7" fill="none" stroke="#ff00ff" stroke-width="2.0" stroke-linejoin="round" />
<line x1="47.6" y1="1279.5" x2="445.0" y2="1354.4" stroke="#000" stroke-width="1.5" />
<line x1="445.0" y1="1354.4" x2="605.1" y2="1192.6" stroke="#000" stroke-width="1.5" />
<line x1="605.1" y1="1192.6" x2="607.2" y2="797.9" stroke="#000" stroke-width="1.5" />
<line x1="425.0" y1="1350.6" x2="424.7" y2="1341.1" stroke="#000" stroke-width="1.3" />
<line x1="405.1" y1="1346.9" x2="405.0" y2="1341.8" stroke="#000" stroke-width="1.3" />
<line x1="385.5" y1="1343.2" x2="385.2" y2="1333.7" stroke="#000" stroke-width="1.3" />
<line x1="366.1" y1="1339.5" x2="365.9" y2="1334.4" stroke="#000" stroke-width="1.3" />
<line x1="346.8" y1="1335.9" x2="346.5" y2="1326.5" stroke="#000" stroke-width="1.3" />
<line x1="327.8" y1="1332.3" x2="327.6" y2="1327.3" stroke="#000" stroke-width="1.3" />
<line x1="308.9" y1="1328.7" x2="308.5" y2="1319.5" stroke="#000" stroke-width="1.3" />
<line x1="290.3" y1="1325.2" x2="290.1" y2="1320.3" stroke="#000" stroke-width="1.3" />
<line x1="271.8" y1="1321.7" x2="271.4" y2="1312.6" stroke="#000" stroke-width="1.3" />
<line x1="253.5" y1="1318.3" x2="253.3" y2="1313.4" stroke="#000" stroke-width="1.3" />
<line x1="235.4" y1="1314.9" x2="234.9" y2="1305.8" stroke="#000" stroke-width="1.3" />
<line x1="217.5" y1="1311.5" x2="217.2" y2="1306.6" stroke="#000" stroke-width="1.3" />
<line x1="199.8" y1="1308.2" x2="199.2" y2="1299.1" stroke="#000" stroke-width="1.3" />
<line x1="182.2" y1="1304.8" x2="181.9" y2="1300.0" stroke="#000" stroke-width="1.3" />
<line x1="164.8" y1="1301.6" x2="164.2" y2="1292.6" stroke="#000" stroke-width="1.3" />
<line x1="147.6" y1="1298.3" x2="147.3" y2="1293.5" stroke="#000" stroke-width="1.3" />
<line x1="130.5" y1="1295.1" x2="129.9" y2="1286.2" stroke="#000" stroke-width="1.3" />
<line x1="113.6" y1="1291.9" x2="113.3" y2="1287.2" stroke="#000" stroke-width="1.3" />
<line x1="96.9" y1="1288.8" x2="96.2" y2="1280.0" stroke="#000" stroke-width="1.3" />
<line x1="80.3" y1="1285.6" x2="79.9" y2="1280.9" stroke="#000" stroke-width="1.3" />
<line x1="63.9" y1="1282.6" x2="63.2" y2="1273.8" stroke="#000" stroke-width="1.3" />
<line x1="464.1" y1="1335.1" x2="464.0" y2="1327.2" stroke="#000" stroke-width="1.2" />
<line x1="482.4" y1="1316.6" x2="482.3" y2="1310.9" stroke="#000" stroke-width="1.2" />
<line x1="499.9" y1="1298.9" x2="499.9" y2="1291.2" stroke="#000" stroke-width="1.2" />
<line x1="516.8" y1="1281.9" x2="516.7" y2="1276.4" stroke="#000" stroke-width="1.2" />
<line x1="533.0" y1="1265.5" x2="532.9" y2="1258.1" stroke="#000" stroke-width="1.2" />
<line x1="548.5" y1="1249.8" x2="548.5" y2="1244.5" stroke="#000" stroke-width="1.2" />
<line x1="563.5" y1="1234.7" x2="563.5" y2="1227.6" stroke="#000" stroke-width="1.2" />
<line x1="577.9" y1="1220.2" x2="577.9" y2="1215.0" stroke="#000" stroke-width="1.2" />
<line x1="591.8" y1="1206.1" x2="591.8" y2="1199.2" stroke="#000" stroke-width="1.2" />
<line x1="605.1" y1="1192.6" x2="600.3" y2="1191.9" stroke="#000" stroke-width="1.4" />
<line x1="605.3" y1="1158.7" x2="595.8" y2="1157.4" stroke="#000" stroke-width="1.4" />
<line x1="605.5" y1="1124.4" x2="600.6" y2="1123.8" stroke="#000" stroke-width="1.4" />
<line x1="605.7" y1="1089.7" x2="596.1" y2="1088.6" stroke="#000" stroke-width="1.4" />
<line x1="605.9" y1="1054.6" x2="600.9" y2="1054.1" stroke="#000" stroke-width="1.4" />
<line x1="606.0" y1="1019.2" x2="596.3" y2="1018.2" stroke="#000" stroke-width="1.4" />
<line x1="606.2" y1="983.3" x2="601.3" y2="982.9" stroke="#000" stroke-width="1.4" />
<line x1="606.4" y1="947.1" x2="596.6" y2="946.3" stroke="#000" stroke-width="1.4" />
<line x1="606.6" y1="910.4" x2="601.6" y2="910.0" stroke="#000" stroke-width="1.4" />
<line x1="606.8" y1="873.3" x2="596.9" y2="872.7" stroke="#000" stroke-width="1.4" />
<line x1="607.0" y1="835.8" x2="601.9" y2="835.5" stroke="#000" stroke-width="1.4" />
<line x1="607.2" y1="797.9" x2="597.2" y2="797.4" stroke="#000" stroke-width="1.4" />
<line x1="880.6" y1="1241.5" x2="851.4" y2="829.9" stroke="#dcdcdc" stroke-width="1" />
<line x1="925.6" y1="1213.0" x2="900.2" y2="815.9" stroke="#dcdcdc" stroke-width="1" />
<line x1="967.3" y1="1186.6" x2="945.3" y2="802.9" stroke="#dcdcdc" stroke-width="1" />
<line x1="1006.2" y1="1162.0" x2="987.1" y2="790.8" stroke="#dcdcdc" stroke-width="1" />
<line x1="1042.4" y1="1139.0" x2="1026.0" y2="779.6" stroke="#dcdcdc" stroke-width="1" />
<line x1="851.9" y1="1190.2" x2="1057.2" y2="1071.6" stroke="#dcdcdc" stroke-width="1" />
<line x1="846.8" y1="1122.5" x2="1054.8" y2="1014.1" stroke="#dcdcdc" stroke-width="1" />
<line x1="841.6" y1="1053.4" x2="1052.2" y2="955.7" stroke="#dcdcdc" stroke-width="1" />
<line x1="836.4" y1="982.9" x2="1049.7" y2="896.3" stroke="#dcdcdc" stroke-width="1" />
<line x1="831.0" y1="910.9" x2="1047.1" y2="835.8" stroke="#dcdcdc" stroke-width="1" />
<line x1="1384.7" y1="1172.6" x2="1386.7" y2="788.9" stroke="#dcdcdc" stroke-width="1" />
<line x1="1351.3" y1="1168.0" x2="1351.5" y2="787.4" stroke="#dcdcdc" stroke-width="1" />
<line x1="1318.5" y1="1163.5" x2="1316.8" y2="785.9" stroke="#dcdcdc" stroke-width="1" />
<line x1="1286.2" y1="1159.1" x2="1282.7" y2="784.5" stroke="#dcdcdc" stroke-width="1" />
<line x1="1254.4" y1="1154.8" x2="1249.2" y2="783.1" stroke="#dcdcdc" stroke-width="1" />
<line x1="1223.2" y1="1150.5" x2="1216.2" y2="781.6" stroke="#dcdcdc" stroke-width="1" />
<line x1="1192.4" y1="1146.3" x2="1183.8" y2="780.3" stroke="#dcdcdc" stroke-width="1" />
<line x1="1162.1" y1="1142.1" x2="1151.9" y2="778.9" stroke="#dcdcdc" stroke-width="1" />
<line x1="1132.3" y1="1138.0" x2="1120.6" y2="777.5" stroke="#dcdcdc" stroke-width="1" />
<line x1="1102.9" y1="1134.0" x2="1089.8" y2="776.2" stroke="#dcdcdc" stroke-width="1" />
<line x1="1074.0" y1="1130.0" x2="1059.4" y2="774.9" stroke="#dcdcdc" stroke-width="1" />
<line x1="1402.1" y1="1113.7" x2="1057.2" y2="1071.6" stroke="#dcdcdc" stroke-width="1" />
<line x1="1402.6" y1="1051.3" x2="1054.8" y2="1014.1" stroke="#dcdcdc" stroke-width="1" />
<line x1="1403.1" y1="987.7" x2="1052.2" y2="955.7" stroke="#dcdcdc" stroke-width="1" />
<line x1="1403.6" y1="923.0" x2="1049.7" y2="896.3" stroke="#dcdcdc" stroke-width="1" />
<line x1="1404.1" y1="857.0" x2="1047.1" y2="835.8" stroke="#dcdcdc" stroke-width="1" />
<line x1="1268.5" y1="1309.7" x2="880.6" y2="1241.5" stroke="#dcdcdc" stroke-width="1" />
<line x1="1302.3" y1="1275.5" x2="925.6" y2="1213.0" stroke="#dcdcdc" stroke-width="1" />
<line x1="1333.4" y1="1243.9" x2="967.3" y2="1186.6" stroke="#dcdcdc" stroke-width="1" />
<line x1="1362.2" y1="1214.8" x2="1006.2" y2="1162.0" stroke="#dcdcdc" stroke-width="1" />
<line x1="1388.9" y1="1187.7" x2="1042.4" y2="1139.0" stroke="#dcdcdc" stroke-width="1" />
<line x1="1230.7" y1="1324.3" x2="1384.7" y2="1172.6" stroke="#dcdcdc" stroke-width="1" />
<line x1="1191.7" y1="1317.3" x2="1351.3" y2="1168.0" stroke="#dcdcdc" stroke-width="1" />
<line x1="1153.5" y1="1310.3" x2="1318.5" y2="1163.5" stroke="#dcdcdc" stroke-width="1" />
<line x1="1116.1" y1="1303.5" x2="1286.2" y2="1159.1" stroke="#dcdcdc" stroke-width="1" />
<line x1="1079.3" y1="1296.9" x2="1254.4" y2="1154.8" stroke="#dcdcdc" stroke-width="1" />
<line x1="1043.3" y1="1290.4" x2="1223.2" y2="1150.5" stroke="#dcdcdc" stroke-width="1" />
<line x1="1007.9" y1="1283.9" x2="1192.4" y2="1146.3" stroke="#dcdcdc" stroke-width="1" />
<line x1="973.3" y1="1277.7" x2="1162.1" y2="1142.1" stroke="#dcdcdc" stroke-width="1" />
<line x1="939.2" y1="1271.5" x2="1132.3" y2="1138.0" stroke="#dcdcdc" stroke-width="1" />
<line x1="905.8" y1="1265.4" x2="1102.9" y2="1134.0" stroke="#dcdcdc" stroke-width="1" />
<line x1="873.0" y1="1259.5" x2="1074.0" y2="1130.0" stroke="#dcdcdc" stroke-width="1" />
<line x1="825.5" y1="837.4" x2="1044.4" y2="774.3" stroke="#8a8a8a" stroke-width="1" />
<line x1="1044.4" y1="774.3" x2="1404.6" y2="789.7" stroke="#8a8a8a" stroke-width="1" />
<line x1="856.8" y1="1256.6" x2="825.5" y2="837.4" stroke="#8a8a8a" stroke-width="1" />
<line x1="1059.7" y1="1128.0" x2="1044.4" y2="774.3" stroke="#666" stroke-width="1" />
<line x1="856.8" y1="1256.6" x2="1059.7" y2="1128.0" stroke="#666" stroke-width="1" />
<line x1="1059.7" y1="1128.0" x2="1401.6" y2="1174.9" stroke="#777" stroke-width="1" />
<polygon points="1052.8,1142.1 1056.8,1142.6 1043.6,838.7 1039.3,838.4" fill="#ff00ff" />
<polygon points="1056.8,1142.6 1061.0,1140.0 1048.0,837.2 1043.6,838.7" fill="#a000a0" />
<polygon points="1039.3,838.4 1043.6,838.7 1048.0,837.2 1043.8,836.9" fill="#ff00ff" />
<polygon points="1082.1,1146.2 1086.2,1146.8 1074.6,852.7 1070.3,852.5" fill="#ff00ff" />
<polygon points="1086.2,1146.8 1090.3,1144.1 1078.9,851.1 1074.6,852.7" fill="#a000a0" />
<polygon points="1070.3,852.5 1074.6,852.7 1078.9,851.1 1074.7,850.9" fill="#ff00ff" />
<polygon points="1111.8,1150.4 1116.0,1151.0 1105.9,861.1 1101.5,860.8" fill="#ff00ff" />
<polygon points="1116.0,1151.0 1120.0,1148.2 1110.1,859.4 1105.9,861.1" fill="#a000a0" />
<polygon points="1101.5,860.8 1105.9,861.1 1110.1,859.4 1105.7,859.1" fill="#ff00ff" />
<polygon points="1142.0,1154.7 1146.3,1155.3 1137.8,874.0 1133.3,873.7" fill="#ff00ff" />
<polygon points="1146.3,1155.3 1150.2,1152.5 1141.9,872.3 1137.8,874.0" fill="#a000a0" />
<polygon points="1133.3,873.7 1137.8,874.0 1141.9,872.3 1137.4,872.0" fill="#ff00ff" />
<polygon points="1172.7,1159.0 1177.1,1159.6 1170.1,887.5 1165.5,887.1" fill="#ff00ff" />
<polygon points="1177.1,1159.6 1180.9,1156.8 1174.0,885.7 1170.1,887.5" fill="#a000a0" />
<polygon points="1165.5,887.1 1170.1,887.5 1174.0,885.7 1169.5,885.4" fill="#ff00ff" />
<polygon points="1203.9,1163.4 1208.3,1164.0 1202.6,894.2 1198.1,893.9" fill="#ff00ff" />
<polygon points="1208.3,1164.0 1212.0,1161.1 1206.5,892.4 1202.6,894.2" fill="#a000a0" />
<polygon points="1198.1,893.9 1202.6,894.2 1206.5,892.4 1202.0,892.0" fill="#ff00ff" />
<polygon points="1235.6,1167.9 1240.1,1168.5 1236.1,921.5 1231.4,921.1" fill="#ff00ff" />
<polygon points="1240.1,1168.5 1243.7,1165.6 1239.8,919.5 1236.1,921.5" fill="#a000a0" />
<polygon points="1231.4,921.1 1236.1,921.5 1239.8,919.5 1235.2,919.1" fill="#ff00ff" />
<polygon points="1267.9,1172.4 1272.4,1173.1 1270.2,982.7 1265.6,982.3" fill="#ff00ff" />
<polygon points="1272.4,1173.1 1275.9,1170.1 1273.8,980.5 1270.2,982.7" fill="#a000a0" />
<polygon points="1265.6,982.3 1270.2,982.7 1273.8,980.5 1269.2,980.1" fill="#ff00ff" />
<polygon points="1300.6,1177.1 1305.3,1177.7 1304.5,1057.7 1299.8,1057.2" fill="#ff00ff" />
<polygon points="1305.3,1177.7 1308.6,1174.7 1307.9,1055.2 1304.5,1057.7" fill="#a000a0" />
<polygon points="1299.8,1057.2 1304.5,1057.7 1307.9,1055.2 1303.2,1054.7" fill="#ff00ff" />
<polygon points="1334.0,1181.8 1338.7,1182.4 1338.6,1154.4 1333.9,1153.8" fill="#ff00ff" />
<polygon points="1338.7,1182.4 1341.9,1179.4 1341.9,1151.4 1338.6,1154.4" fill="#a000a0" />
<polygon points="1333.9,1153.8 1338.6,1154.4 1341.9,1151.4 1337.2,1150.8" fill="#ff00ff" />
<polyline points="1043.7,837.8 1074.6,851.8 1105.8,860.1 1137.6,873.0 1169.8,886.4 1202.3,893.1 1235.6,920.3 1269.7,981.4 1303.9,1056.2 1337.9,1152.6 1371.8,1185.3" fill="none" stroke="#ff00ff" stroke-width="2.0" stroke-linejoin="round" />
<polygon points="1016.7,1165.3 1020.8,1165.9 1003.7,817.6 999.3,817.3" fill="#00ffff" />
<polygon points="1020.8,1165.9 1025.3,1163.0 1008.4,816.1 1003.7,817.6" fill="#00a0a0" />
<polygon points="999.3,817.3 1003.7,817.6 1008.4,816.1 1004.1,815.8" fill="#00ffff" />
<polygon points="1046.7,1169.8 1050.9,1170.4 1035.5,825.8 1031.1,825.6" fill="#00ffff" />
<polygon points="1050.9,1170.4 1055.3,1167.5 1040.1,824.2 1035.5,825.8" fill="#00a0a0" />
<polygon points="1031.1,825.6 1035.5,825.8 1040.1,824.2 1035.7,824.0" fill="#00ffff" />
<polygon points="1077.2,1174.3 1081.5,1174.9 1067.9,836.3 1063.4,836.1" fill="#00ffff" />
<polygon points="1081.5,1174.9 1085.8,1172.0 1072.4,834.7 1067.9,836.3" fill="#00a0a0" />
<polygon points="1063.4,836.1 1067.9,836.3 1072.4,834.7 1067.9,834.5" fill="#00ffff" />
<polygon points="1108.2,1178.9 1112.6,1179.6 1100.7,846.6 1096.1,846.3" fill="#00ffff" />
<polygon points="1112.6,1179.6 1116.7,1176.6 1105.2,844.9 1100.7,846.6" fill="#00a0a0" />
<polygon points="1096.1,846.3 1100.7,846.6 1105.2,844.9 1100.6,844.6" fill="#00ffff" />
<polygon points="1139.7,1183.6 1144.2,1184.3 1134.4,867.8 1129.7,867.5" fill="#00ffff" />
<polygon points="1144.2,1184.3 1148.2,1181.2 1138.7,866.1 1134.4,867.8" fill="#00a0a0" />
<polygon points="1129.7,867.5 1134.4,867.8 1138.7,866.1 1134.1,865.8" fill="#00ffff" />
<polygon points="1171.7,1188.4 1176.3,1189.0 1168.8,902.6 1164.1,902.2" fill="#00ffff" />
<polygon points="1176.3,1189.0 1180.2,1185.9 1173.0,900.6 1168.8,902.6" fill="#00a0a0" />
<polygon points="1164.1,902.2 1168.8,902.6 1173.0,900.6 1168.3,900.3" fill="#00ffff" />
<polygon points="1204.3,1193.2 1208.9,1193.9 1203.5,936.0 1198.7,935.7" fill="#00ffff" />
<polygon points="1208.9,1193.9 1212.8,1190.8 1207.5,933.9 1203.5,936.0" fill="#00a0a0" />
<polygon points="1198.7,935.7 1203.5,936.0 1207.5,933.9 1202.8,933.6" fill="#00ffff" />
<polygon points="1237.5,1198.1 1242.2,1198.8 1238.9,994.9 1234.1,994.5" fill="#00ffff" />
<polygon points="1242.2,1198.8 1245.9,1195.7 1242.8,992.6 1238.9,994.9" fill="#00a0a0" />
<polygon points="1234.1,994.5 1238.9,994.9 1242.8,992.6 1237.9,992.1" fill="#00ffff" />
<polygon points="1271.2,1203.2 1276.0,1203.9 1274.5,1074.2 1269.7,1073.7" fill="#00ffff" />
<polygon points="1276.0,1203.9 1279.6,1200.6 1278.2,1071.5 1274.5,1074.2" fill="#00a0a0" />
<polygon points="1269.7,1073.7 1274.5,1074.2 1278.2,1071.5 1273.4,1071.0" fill="#00ffff" />
<polygon points="1305.5,1208.3 1310.3,1209.0 1310.1,1173.2 1305.3,1172.5" fill="#00ffff" />
<polygon points="1310.3,1209.0 1313.9,1205.7 1313.7,1170.1 1310.1,1173.2" fill="#00a0a0" />
<polygon points="1305.3,1172.5 1310.1,1173.2 1313.7,1170.1 1308.8,1169.4" fill="#00ffff" />
<polyline points="1003.9,816.7 1035.6,824.9 1067.9,835.4 1100.7,845.6 1134.2,866.8 1168.6,901.4 1203.1,934.8 1238.4,993.5 1274.0,1072.6 1309.5,1171.3 1344.6,1212.1" fill="none" stroke="#00ffff" stroke-width="2.0" stroke-linejoin="round" />
<polygon points="977.9,1190.2 982.2,1190.8 964.6,871.6 960.1,871.2" fill="#0000ff" />
<polygon points="982.2,1190.8 987.0,1187.8 969.7,869.8 964.6,871.6" fill="#0000a0" />
<polygon points="960.1,871.2 964.6,871.6 969.7,869.8 965.2,869.4" fill="#0000ff" />
<polygon points="1008.7,1195.0 1013.1,1195.7 997.1,880.9 992.6,880.6" fill="#0000ff" />
<polygon points="1013.1,1195.7 1017.7,1192.6 1002.1,879.0 997.1,880.9" fill="#0000a0" />
<polygon points="992.6,880.6 997.1,880.9 1002.1,879.0 997.6,878.7" fill="#0000ff" />
<polygon points="1040.0,1199.9 1044.4,1200.6 1030.3,892.6 1025.7,892.3" fill="#0000ff" />
<polygon points="1044.4,1200.6 1049.0,1197.4 1035.2,890.7 1030.3,892.6" fill="#0000a0" />
<polygon points="1025.7,892.3 1030.3,892.6 1035.2,890.7 1030.6,890.4" fill="#0000ff" />
<polygon points="1071.8,1204.9 1076.3,1205.6 1063.9,904.4 1059.3,904.0" fill="#0000ff" />
<polygon points="1076.3,1205.6 1080.8,1202.4 1068.7,902.4 1063.9,904.4" fill="#0000a0" />
<polygon points="1059.3,904.0 1063.9,904.4 1068.7,902.4 1064.0,902.0" fill="#0000ff" />
<polygon points="1104.2,1210.0 1108.8,1210.7 1098.0,913.7 1093.2,913.3" fill="#0000ff" />
<polygon points="1108.8,1210.7 1113.2,1207.4 1102.6,911.7 1098.0,913.7" fill="#0000a0" />
<polygon points="1093.2,913.3 1098.0,913.7 1102.6,911.7 1097.9,911.3" fill="#0000ff" />
<polygon points="1137.1,1215.2 1141.8,1215.9 1132.8,929.5 1128.0,929.1" fill="#0000ff" />
<polygon points="1141.8,1215.9 1146.1,1212.6 1137.3,927.3 1132.8,929.5" fill="#0000a0" />
<polygon points="1128.0,929.1 1132.8,929.5 1137.3,927.3 1132.5,926.9" fill="#0000ff" />
<polygon points="1170.7,1220.5 1175.4,1221.2 1168.6,963.7 1163.7,963.2" fill="#0000ff" />
<polygon points="1175.4,1221.2 1179.6,1217.8 1173.0,961.4 1168.6,963.7" fill="#0000a0" />
<polygon points="1163.7,963.2 1168.6,963.7 1173.0,961.4 1168.1,960.9" fill="#0000ff" />
<polygon points="1204.8,1225.8 1209.6,1226.6 1205.3,1025.2 1200.4,1024.6" fill="#0000ff" />
<polygon points="1209.6,1226.6 1213.6,1223.1 1209.5,1022.6 1205.3,1025.2" fill="#0000a0" />
<polygon points="1200.4,1024.6 1205.3,1025.2 1209.5,1022.6 1204.6,1022.0" fill="#0000ff" />
<polygon points="1239.5,1231.3 1244.4,1232.0 1242.7,1122.8 1237.7,1122.2" fill="#0000ff" />
<polygon points="1244.4,1232.0 1248.3,1228.5 1246.7,1119.8 1242.7,1122.8" fill="#0000a0" />
<polygon points="1237.7,1122.2 1242.7,1122.8 1246.7,1119.8 1241.7,1119.2" fill="#0000ff" />
<polygon points="1274.8,1236.8 1279.8,1237.6 1279.5,1208.4 1274.5,1207.6" fill="#0000ff" />
<polygon points="1279.8,1237.6 1283.6,1234.1 1283.3,1205.0 1279.5,1208.4" fill="#0000a0" />
<polygon points="1274.5,1207.6 1279.5,1208.4 1283.3,1205.0 1278.3,1204.2" fill="#0000ff" />
<polyline points="964.9,870.5 997.4,879.8 1030.4,891.5 1064.0,903.2 1098.0,912.5 1132.7,928.2 1168.4,962.3 1205.0,1023.6 1242.2,1121.0 1278.9,1206.3 1315.2,1241.4" fill="none" stroke="#0000ff" stroke-width="2.0" stroke-linejoin="round" />
<polygon points="936.4,1216.9 940.7,1217.6 923.5,938.3 919.0,937.9" fill="#00ff00" />
<polygon points="940.7,1217.6 945.9,1214.3 928.9,936.1 923.5,938.3" fill="#00a000" />
<polygon points="919.0,937.9 923.5,938.3 928.9,936.1 924.4,935.7" fill="#00ff00" />
<polygon points="967.9,1222.1 972.4,1222.9 956.4,943.0 951.8,942.6" fill="#00ff00" />
<polygon points="972.4,1222.9 977.4,1219.5 961.8,940.8 956.4,943.0" fill="#00a000" />
<polygon points="951.8,942.6 956.4,943.0 961.8,940.8 957.2,940.4" fill="#00ff00" />
<polygon points="1000.0,1227.5 1004.6,1228.2 990.1,951.2 985.4,950.8" fill="#00ff00" />
<polygon points="1004.6,1228.2 1009.5,1224.8 995.4,949.0 990.1,951.2" fill="#00a000" />
<polygon points="985.4,950.8 990.1,951.2 995.4,949.0 990.7,948.6" fill="#00ff00" />
<polygon points="1032.7,1232.9 1037.3,1233.7 1024.5,960.7 1019.7,960.2" fill="#00ff00" />
<polygon points="1037.3,1233.7 1042.2,1230.2 1029.6,958.4 1024.5,960.7" fill="#00a000" />
<polygon points="1019.7,960.2 1024.5,960.7 1029.6,958.4 1024.8,957.9" fill="#00ff00" />
<polygon points="1066.0,1238.5 1070.7,1239.2 1059.3,968.8 1054.4,968.4" fill="#00ff00" />
<polygon points="1070.7,1239.2 1075.4,1235.7 1064.3,966.4 1059.3,968.8" fill="#00a000" />
<polygon points="1054.4,968.4 1059.3,968.8 1064.3,966.4 1059.4,966.0" fill="#00ff00" />
<polygon points="1099.9,1244.1 1104.7,1244.9 1094.5,971.0 1089.5,970.6" fill="#00ff00" />
<polygon points="1104.7,1244.9 1109.3,1241.3 1099.4,968.6 1094.5,971.0" fill="#00a000" />
<polygon points="1089.5,970.6 1094.5,971.0 1099.4,968.6 1094.4,968.2" fill="#00ff00" />
<polygon points="1134.4,1249.8 1139.2,1250.6 1131.0,991.5 1125.9,991.0" fill="#00ff00" />
<polygon points="1139.2,1250.6 1143.7,1247.0 1135.7,989.0 1131.0,991.5" fill="#00a000" />
<polygon points="1125.9,991.0 1131.0,991.5 1135.7,989.0 1130.6,988.5" fill="#00ff00" />
<polygon points="1169.5,1255.7 1174.5,1256.5 1169.1,1056.4 1164.0,1055.8" fill="#00ff00" />
<polygon points="1174.5,1256.5 1178.8,1252.8 1173.7,1053.6 1169.1,1056.4" fill="#00a000" />
<polygon points="1164.0,1055.8 1169.1,1056.4 1173.7,1053.6 1168.6,1053.0" fill="#00ff00" />
<polygon points="1205.3,1261.6 1210.3,1262.5 1208.1,1155.9 1202.9,1155.2" fill="#00ff00" />
<polygon points="1210.3,1262.5 1214.6,1258.7 1212.4,1152.6 1208.1,1155.9" fill="#00a000" />
<polygon points="1202.9,1155.2 1208.1,1155.9 1212.4,1152.6 1207.3,1151.9" fill="#00ff00" />
<polygon points="1241.7,1267.7 1246.9,1268.5 1246.4,1236.6 1241.2,1235.7" fill="#00ff00" />
<polygon points="1246.9,1268.5 1251.0,1264.7 1250.5,1232.9 1246.4,1236.6" fill="#00a000" />
<polygon points="1241.2,1235.7 1246.4,1236.6 1250.5,1232.9 1245.3,1232.0" fill="#00ff00" />
<polyline points="924.0,937.0 956.8,941.7 990.4,949.9 1024.6,959.3 1059.3,967.4 1094.4,969.6 1130.8,990.0 1168.9,1054.7 1207.7,1153.9 1245.8,1234.3 1283.5,1272.9" fill="none" stroke="#00ff00" stroke-width="2.0" stroke-linejoin="round" />
<polygon points="891.6,1245.7 896.1,1246.5 878.6,992.3 873.9,991.8" fill="#ff0000" />
<polygon points="896.1,1246.5 901.6,1242.9 884.4,989.8 878.6,992.3" fill="#a80000" />
<polygon points="873.9,991.8 878.6,992.3 884.4,989.8 879.8,989.3" fill="#ff0000" />
<polygon points="923.9,1251.4 928.5,1252.2 912.4,1000.5 907.7,1000.0" fill="#ff0000" />
<polygon points="928.5,1252.2 934.0,1248.6 918.2,998.0 912.4,1000.5" fill="#a80000" />
<polygon points="907.7,1000.0 912.4,1000.5 918.2,998.0 913.5,997.5" fill="#ff0000" />
<polygon points="956.9,1257.2 961.6,1258.0 946.7,1005.2 941.9,1004.6" fill="#ff0000" />
<polygon points="961.6,1258.0 966.9,1254.3 952.3,1002.6 946.7,1005.2" fill="#a80000" />
<polygon points="941.9,1004.6 946.7,1005.2 952.3,1002.6 947.5,1002.0" fill="#ff0000" />
<polygon points="990.5,1263.1 995.3,1264.0 981.8,1014.6 976.9,1014.1" fill="#ff0000" />
<polygon points="995.3,1264.0 1000.5,1260.2 987.3,1011.9 981.8,1014.6" fill="#a80000" />
<polygon points="976.9,1014.1 981.8,1014.6 987.3,1011.9 982.4,1011.4" fill="#ff0000" />
<polygon points="1024.7,1269.2 1029.6,1270.0 1017.5,1021.6 1012.5,1021.1" fill="#ff0000" />
<polygon points="1029.6,1270.0 1034.7,1266.2 1022.8,1018.9 1017.5,1021.6" fill="#a80000" />
<polygon points="1012.5,1021.1 1017.5,1021.6 1022.8,1018.9 1017.8,1018.4" fill="#ff0000" />
<polygon points="1059.6,1275.3 1064.5,1276.2 1054.7,1049.7 1049.6,1049.2" fill="#ff0000" />
<polygon points="1064.5,1276.2 1069.5,1272.3 1059.9,1046.9 1054.7,1049.7" fill="#a80000" />
<polygon points="1049.6,1049.2 1054.7,1049.7 1059.9,1046.9 1054.8,1046.3" fill="#ff0000" />
<polygon points="1095.1,1281.6 1100.1,1282.5 1092.1,1072.3 1087.0,1071.7" fill="#ff0000" />
<polygon points="1100.1,1282.5 1105.0,1278.5 1097.2,1069.3 1092.1,1072.3" fill="#a80000" />
<polygon points="1087.0,1071.7 1092.1,1072.3 1097.2,1069.3 1092.0,1068.7" fill="#ff0000" />
<polygon points="1131.3,1288.0 1136.4,1288.9 1131.6,1141.2 1126.4,1140.4" fill="#ff0000" />
<polygon points="1136.4,1288.9 1141.1,1284.9 1136.5,1137.8 1131.6,1141.2" fill="#a80000" />
<polygon points="1126.4,1140.4 1131.6,1141.2 1136.5,1137.8 1131.3,1137.1" fill="#ff0000" />
<polygon points="1168.2,1294.5 1173.4,1295.4 1170.6,1192.2 1165.3,1191.4" fill="#ff0000" />
<polygon points="1173.4,1295.4 1178.0,1291.3 1175.3,1188.6 1170.6,1192.2" fill="#a80000" />
<polygon points="1165.3,1191.4 1170.6,1192.2 1175.3,1188.6 1170.0,1187.8" fill="#ff0000" />
<polygon points="1205.8,1301.1 1211.1,1302.1 1210.5,1274.2 1205.2,1273.3" fill="#ff0000" />
<polygon points="1211.1,1302.1 1215.6,1297.9 1215.0,1270.1 1210.5,1274.2" fill="#a80000" />
<polygon points="1205.2,1273.3 1210.5,1274.2 1215.0,1270.1 1209.7,1269.2" fill="#ff0000" />
<polyline points="879.2,990.8 913.0,999.0 947.1,1003.6 982.1,1013.0 1017.7,1020.0 1054.7,1048.0 1092.1,1070.5 1131.4,1139.1 1170.3,1190.0 1210.1,1271.7 1249.0,1306.8" fill="none" stroke="#ff0000" stroke-width="2.0" stroke-linejoin="round" />
<line x1="856.8" y1="1256.6" x2="1250.5" y2="1327.9" stroke="#000" stroke-width="1.5" />
<line x1="1250.5" y1="1327.9" x2="1401.6" y2="1174.9" stroke="#000" stroke-width="1.5" />
<line x1="1401.6" y1="1174.9" x2="1404.6" y2="789.7" stroke="#000" stroke-width="1.5" />
<line x1="1230.7" y1="1324.3" x2="1230.5" y2="1315.0" stroke="#000" stroke-width="1.3" />
<line x1="1211.1" y1="1320.8" x2="1211.0" y2="1315.8" stroke="#000" stroke-width="1.3" />
<line x1="1191.7" y1="1317.3" x2="1191.5" y2="1308.0" stroke="#000" stroke-width="1.3" />
<line x1="1172.5" y1="1313.8" x2="1172.4" y2="1308.8" stroke="#000" stroke-width="1.3" />
<line x1="1153.5" y1="1310.3" x2="1153.2" y2="1301.1" stroke="#000" stroke-width="1.3" />
<line x1="1134.7" y1="1306.9" x2="1134.5" y2="1302.0" stroke="#000" stroke-width="1.3" />
<line x1="1116.1" y1="1303.5" x2="1115.7" y2="1294.4" stroke="#000" stroke-width="1.3" />
<line x1="1097.6" y1="1300.2" x2="1097.4" y2="1295.3" stroke="#000" stroke-width="1.3" />
<line x1="1079.3" y1="1296.9" x2="1078.9" y2="1287.9" stroke="#000" stroke-width="1.3" />
<line x1="1061.2" y1="1293.6" x2="1061.0" y2="1288.8" stroke="#000" stroke-width="1.3" />
<line x1="1043.3" y1="1290.4" x2="1042.9" y2="1281.4" stroke="#000" stroke-width="1.3" />
<line x1="1025.5" y1="1287.1" x2="1025.3" y2="1282.3" stroke="#000" stroke-width="1.3" />
<line x1="1007.9" y1="1283.9" x2="1007.5" y2="1275.1" stroke="#000" stroke-width="1.3" />
<line x1="990.5" y1="1280.8" x2="990.3" y2="1276.0" stroke="#000" stroke-width="1.3" />
<line x1="973.3" y1="1277.7" x2="972.8" y2="1268.9" stroke="#000" stroke-width="1.3" />
<line x1="956.2" y1="1274.6" x2="955.9" y2="1269.8" stroke="#000" stroke-width="1.3" />
<line x1="939.2" y1="1271.5" x2="938.7" y2="1262.8" stroke="#000" stroke-width="1.3" />
<line x1="922.4" y1="1268.4" x2="922.1" y2="1263.8" stroke="#000" stroke-width="1.3" />
<line x1="905.8" y1="1265.4" x2="905.2" y2="1256.8" stroke="#000" stroke-width="1.3" />
<line x1="889.3" y1="1262.4" x2="889.0" y2="1257.8" stroke="#000" stroke-width="1.3" />
<line x1="873.0" y1="1259.5" x2="872.4" y2="1250.9" stroke="#000" stroke-width="1.3" />
<line x1="1268.5" y1="1309.7" x2="1268.4" y2="1301.9" stroke="#000" stroke-width="1.2" />
<line x1="1285.7" y1="1292.2" x2="1285.7" y2="1286.7" stroke="#000" stroke-width="1.2" />
<line x1="1302.3" y1="1275.5" x2="1302.2" y2="1267.9" stroke="#000" stroke-width="1.2" />
<line x1="1318.2" y1="1259.4" x2="1318.1" y2="1254.0" stroke="#000" stroke-width="1.2" />
<line x1="1333.4" y1="1243.9" x2="1333.4" y2="1236.7" stroke="#000" stroke-width="1.2" />
<line x1="1348.1" y1="1229.1" x2="1348.1" y2="1223.9" stroke="#000" stroke-width="1.2" />
<line x1="1362.2" y1="1214.8" x2="1362.2" y2="1207.8" stroke="#000" stroke-width="1.2" />
<line x1="1375.8" y1="1201.0" x2="1375.9" y2="1196.0" stroke="#000" stroke-width="1.2" />
<line x1="1388.9" y1="1187.7" x2="1389.0" y2="1180.9" stroke="#000" stroke-width="1.2" />
<line x1="1401.6" y1="1174.9" x2="1392.3" y2="1173.7" stroke="#000" stroke-width="1.4" />
<line x1="1401.8" y1="1144.5" x2="1397.1" y2="1143.8" stroke="#000" stroke-width="1.4" />
<line x1="1402.1" y1="1113.7" x2="1392.7" y2="1112.5" stroke="#000" stroke-width="1.4" />
<line x1="1402.3" y1="1082.6" x2="1397.5" y2="1082.1" stroke="#000" stroke-width="1.4" />
<line x1="1402.6" y1="1051.3" x2="1393.1" y2="1050.3" stroke="#000" stroke-width="1.4" />
<line x1="1402.8" y1="1019.7" x2="1397.9" y2="1019.2" stroke="#000" stroke-width="1.4" />
<line x1="1403.1" y1="987.7" x2="1393.5" y2="986.9" stroke="#000" stroke-width="1.4" />
<line x1="1403.3" y1="955.5" x2="1398.4" y2="955.1" stroke="#000" stroke-width="1.4" />
<line x1="1403.6" y1="923.0" x2="1393.9" y2="922.2" stroke="#000" stroke-width="1.4" />
<line x1="1403.8" y1="890.1" x2="1398.9" y2="889.8" stroke="#000" stroke-width="1.4" />
<line x1="1404.1" y1="857.0" x2="1394.3" y2="856.4" stroke="#000" stroke-width="1.4" />
<line x1="1404.3" y1="823.5" x2="1399.3" y2="823.3" stroke="#000" stroke-width="1.4" />
<line x1="1404.6" y1="789.7" x2="1394.8" y2="789.3" stroke="#000" stroke-width="1.4" />
<text x="418.9" y="620.2" font-family="Liberation Serif" font-size="35.5" text-anchor="middle" >0</text>
<text x="379.4" y="613.0" font-family="Liberation Serif" font-size="35.2" text-anchor="middle" >2</text>
<text x="340.5" y="605.8" font-family="Liberation Serif" font-size="35.0" text-anchor="middle" >4</text>
<text x="302.5" y="598.8" font-family="Liberation Serif" font-size="34.8" text-anchor="middle" >6</text>
<text x="265.1" y="591.9" font-family="Liberation Serif" font-size="34.5" text-anchor="middle" >8</text>
<text x="228.4" y="585.1" font-family="Liberation Serif" font-size="34.2" text-anchor="middle" >10</text>
<text x="192.5" y="578.5" font-family="Liberation Serif" font-size="34.0" text-anchor="middle" >12</text>
<text x="157.1" y="572.0" font-family="Liberation Serif" font-size="33.8" text-anchor="middle" >14</text>
<text x="122.4" y="565.6" font-family="Liberation Serif" font-size="33.5" text-anchor="middle" >16</text>
<text x="88.4" y="559.3" font-family="Liberation Serif" font-size="33.2" text-anchor="middle" >18</text>
<text x="54.9" y="553.1" font-family="Liberation Serif" font-size="33.0" text-anchor="middle" >20</text>
<text x="457.5" y="605.9" font-family="Liberation Serif" font-size="33" text-anchor="middle" >6.0</text>
<text x="491.5" y="567.9" font-family="Liberation Serif" font-size="32" text-anchor="middle" >6.5</text>
<text x="525.0" y="533.5" font-family="Liberation Serif" font-size="31" text-anchor="middle" >7.0</text>
<text x="554.0" y="503.4" font-family="Liberation Serif" font-size="30.5" text-anchor="middle" >7.5</text>
<text x="580.0" y="474.2" font-family="Liberation Serif" font-size="30" text-anchor="middle" >8.0</text>
<text x="603.0" y="433.3" font-family="Liberation Serif" font-size="31" text-anchor="start" >0</text>
<text x="603.4" y="371.0" font-family="Liberation Serif" font-size="31" text-anchor="start" >10</text>
<text x="603.8" y="307.5" font-family="Liberation Serif" font-size="31" text-anchor="start" >20</text>
<text x="604.3" y="242.9" font-family="Liberation Serif" font-size="31" text-anchor="start" >30</text>
<text x="604.7" y="177.0" font-family="Liberation Serif" font-size="31" text-anchor="start" >40</text>
<text x="605.2" y="109.9" font-family="Liberation Serif" font-size="31" text-anchor="start" >50</text>
<text x="605.7" y="41.4" font-family="Liberation Serif" font-size="31" text-anchor="start" >60</text>
<text x="199.0" y="626.0" font-family="Liberation Serif" font-size="34" text-anchor="middle" transform="rotate(11 199 615)">Time(d)</text>
<text x="567.0" y="551.0" font-family="Liberation Serif" font-size="30" text-anchor="middle" transform="rotate(-56 567 541)">Ph</text>
<text font-family="Liberation Serif" font-size="30" text-anchor="middle" transform="translate(673.5,226) rotate(-90)">The con<tspan fill="#8b1a1a">centra</tspan>tion of H<tspan font-size="19" dy="6">2</tspan><tspan dy="-6">S(mg/L)</tspan></text>
<rect x="486.2" y="52.6" width="95.6" height="126.1" fill="#fff" stroke="#8c8c8c" stroke-width="1.2"/>
<rect x="490.9" y="57.2" width="43.2" height="21.1" fill="#ff0000"/>
<text x="545.0" y="74.8" font-family="Liberation Serif" font-size="20" text-anchor="start" fill="#222" letter-spacing="1.5">6.&#8201;0</text>
<rect x="490.9" y="81.8" width="43.2" height="21.0" fill="#00ff00"/>
<text x="545.0" y="99.3" font-family="Liberation Serif" font-size="20" text-anchor="start" fill="#222" letter-spacing="1.5">6.&#8201;5</text>
<rect x="490.9" y="106.3" width="43.2" height="19.9" fill="#0000ff"/>
<text x="545.0" y="123.2" font-family="Liberation Serif" font-size="20" text-anchor="start" fill="#222" letter-spacing="1.5">7.&#8201;0</text>
<rect x="490.9" y="130.4" width="43.2" height="20.3" fill="#00ffff"/>
<text x="545.0" y="147.6" font-family="Liberation Serif" font-size="20" text-anchor="start" fill="#222" letter-spacing="1.5">7.&#8201;5</text>
<rect x="490.9" y="154.2" width="43.2" height="20.6" fill="#ff00ff"/>
<text x="545.0" y="171.5" font-family="Liberation Serif" font-size="20" text-anchor="start" fill="#222" letter-spacing="1.5">8.&#8201;0</text>
<text x="44.0" y="704.0" font-family="Liberation Serif" font-size="47.4" text-anchor="start" >(a) Effect on hydrogen sulfide</text>
<text x="1218.4" y="609.7" font-family="Liberation Serif" font-size="35.5" text-anchor="middle" >0</text>
<text x="1178.6" y="602.4" font-family="Liberation Serif" font-size="35.2" text-anchor="middle" >2</text>
<text x="1139.6" y="595.2" font-family="Liberation Serif" font-size="35.0" text-anchor="middle" >4</text>
<text x="1101.3" y="588.2" font-family="Liberation Serif" font-size="34.8" text-anchor="middle" >6</text>
<text x="1063.7" y="581.3" font-family="Liberation Serif" font-size="34.5" text-anchor="middle" >8</text>
<text x="1026.9" y="574.6" font-family="Liberation Serif" font-size="34.2" text-anchor="middle" >10</text>
<text x="990.7" y="567.9" font-family="Liberation Serif" font-size="34.0" text-anchor="middle" >12</text>
<text x="955.2" y="561.4" font-family="Liberation Serif" font-size="33.8" text-anchor="middle" >14</text>
<text x="920.3" y="554.9" font-family="Liberation Serif" font-size="33.5" text-anchor="middle" >16</text>
<text x="886.0" y="548.6" font-family="Liberation Serif" font-size="33.2" text-anchor="middle" >18</text>
<text x="852.4" y="542.4" font-family="Liberation Serif" font-size="33.0" text-anchor="middle" >20</text>
<text x="1257.4" y="596.2" font-family="Liberation Serif" font-size="33" text-anchor="middle" >6.0</text>
<text x="1289.7" y="558.9" font-family="Liberation Serif" font-size="32" text-anchor="middle" >6.5</text>
<text x="1323.2" y="523.7" font-family="Liberation Serif" font-size="31" text-anchor="middle" >7.0</text>
<text x="1352.0" y="493.7" font-family="Liberation Serif" font-size="30.5" text-anchor="middle" >7.5</text>
<text x="1378.3" y="464.7" font-family="Liberation Serif" font-size="30" text-anchor="middle" >8.0</text>
<text x="1402.5" y="424.0" font-family="Liberation Serif" font-size="31" text-anchor="start" >5.5</text>
<text x="1402.9" y="370.5" font-family="Liberation Serif" font-size="31" text-anchor="start" >6.0</text>
<text x="1403.3" y="316.1" font-family="Liberation Serif" font-size="31" text-anchor="start" >6.5</text>
<text x="1403.7" y="260.9" font-family="Liberation Serif" font-size="31" text-anchor="start" >7.0</text>
<text x="1404.1" y="204.8" font-family="Liberation Serif" font-size="31" text-anchor="start" >7.5</text>
<text x="1404.5" y="147.7" font-family="Liberation Serif" font-size="31" text-anchor="start" >8.0</text>
<text x="1405.0" y="89.8" font-family="Liberation Serif" font-size="31" text-anchor="start" >8.5</text>
<text x="1405.4" y="30.9" font-family="Liberation Serif" font-size="31" text-anchor="start" >9.0</text>
<text x="1026.6" y="621.0" font-family="Liberation Serif" font-size="34" text-anchor="middle" transform="rotate(11 1026.6 610)">Time(d)</text>
<text x="1376.0" y="529.0" font-family="Liberation Serif" font-size="30" text-anchor="middle" transform="rotate(-58 1376 519)">Ph</text>
<text font-family="Liberation Serif" font-size="30" text-anchor="middle" transform="translate(1478,222) rotate(-90)">Ph</text>
<rect x="1312.0" y="29.9" width="67.5" height="87.9" fill="#fff" stroke="#8c8c8c" stroke-width="1.2"/>
<rect x="1316.0" y="33.5" width="29.5" height="13.9" fill="#ff0000"/>
<text x="1353.0" y="45.2" font-family="Liberation Serif" font-size="13.5" text-anchor="start" fill="#222" letter-spacing="1.5">6.&#8201;0</text>
<rect x="1316.0" y="50.8" width="29.5" height="13.4" fill="#00ff00"/>
<text x="1353.0" y="62.2" font-family="Liberation Serif" font-size="13.5" text-anchor="start" fill="#222" letter-spacing="1.5">6.&#8201;5</text>
<rect x="1316.0" y="67.8" width="29.5" height="13.6" fill="#0000ff"/>
<text x="1353.0" y="79.3" font-family="Liberation Serif" font-size="13.5" text-anchor="start" fill="#222" letter-spacing="1.5">7.&#8201;0</text>
<rect x="1316.0" y="84.5" width="29.5" height="13.7" fill="#00ffff"/>
<text x="1353.0" y="96.1" font-family="Liberation Serif" font-size="13.5" text-anchor="start" fill="#222" letter-spacing="1.5">7.&#8201;5</text>
<rect x="1316.0" y="101.8" width="29.5" height="14.8" fill="#ff00ff"/>
<text x="1353.0" y="113.9" font-family="Liberation Serif" font-size="13.5" text-anchor="start" fill="#222" letter-spacing="1.5">8.&#8201;0</text>
<text x="935.0" y="702.0" font-family="Liberation Serif" font-size="47.4" text-anchor="start" >(b) Effect on pH value</text>
<text x="63.9" y="1324.1" font-family="Liberation Serif" font-size="33.0" text-anchor="middle" >0</text>
<text x="96.9" y="1330.6" font-family="Liberation Serif" font-size="33.2" text-anchor="middle" >2</text>
<text x="130.5" y="1337.2" font-family="Liberation Serif" font-size="33.5" text-anchor="middle" >4</text>
<text x="164.8" y="1344.0" font-family="Liberation Serif" font-size="33.8" text-anchor="middle" >6</text>
<text x="199.8" y="1350.9" font-family="Liberation Serif" font-size="34.0" text-anchor="middle" >8</text>
<text x="235.4" y="1357.9" font-family="Liberation Serif" font-size="34.2" text-anchor="middle" >10</text>
<text x="271.8" y="1365.1" font-family="Liberation Serif" font-size="34.5" text-anchor="middle" >12</text>
<text x="308.9" y="1372.4" font-family="Liberation Serif" font-size="34.8" text-anchor="middle" >14</text>
<text x="346.8" y="1379.8" font-family="Liberation Serif" font-size="35.0" text-anchor="middle" >16</text>
<text x="385.5" y="1387.4" font-family="Liberation Serif" font-size="35.2" text-anchor="middle" >18</text>
<text x="425.0" y="1395.2" font-family="Liberation Serif" font-size="35.5" text-anchor="middle" >20</text>
<text x="621.0" y="1215.6" font-family="Liberation Serif" font-size="30" text-anchor="middle" >6.0</text>
<text x="591.8" y="1246.1" font-family="Liberation Serif" font-size="30.5" text-anchor="middle" >6.5</text>
<text x="563.8" y="1276.6" font-family="Liberation Serif" font-size="31" text-anchor="middle" >7.0</text>
<text x="532.2" y="1309.7" font-family="Liberation Serif" font-size="32" text-anchor="middle" >7.5</text>
<text x="497.2" y="1347.4" font-family="Liberation Serif" font-size="33" text-anchor="middle" >8.0</text>
<text x="615.3" y="1169.2" font-family="Liberation Serif" font-size="31" text-anchor="start" >-300</text>
<text x="615.7" y="1100.2" font-family="Liberation Serif" font-size="31" text-anchor="start" >-250</text>
<text x="616.0" y="1029.7" font-family="Liberation Serif" font-size="31" text-anchor="start" >-200</text>
<text x="616.4" y="957.6" font-family="Liberation Serif" font-size="31" text-anchor="start" >-150</text>
<text x="616.8" y="883.8" font-family="Liberation Serif" font-size="31" text-anchor="start" >-100</text>
<text x="617.2" y="808.4" font-family="Liberation Serif" font-size="31" text-anchor="start" >-50</text>
<text x="236.0" y="1402.5" font-family="Liberation Serif" font-size="34" text-anchor="middle" transform="rotate(11 236 1391.5)">Time(d)</text>
<text x="602.3" y="1300.7" font-family="Liberation Serif" font-size="30" text-anchor="middle" transform="rotate(-58 602.3 1290.7)">Ph</text>
<text font-family="Liberation Serif" font-size="30" text-anchor="middle" transform="translate(707,1002) rotate(-90)">ORP(mV)</text>
<rect x="493.7" y="823.7" width="88.3" height="116.9" fill="#fff" stroke="#8c8c8c" stroke-width="1.2"/>
<rect x="496.7" y="828.4" width="40.7" height="18.7" fill="#ff0000"/>
<text x="547.4" y="844.6" font-family="Liberation Serif" font-size="19.5" text-anchor="start" fill="#222" letter-spacing="1.5">6.&#8201;0</text>
<rect x="496.7" y="850.6" width="40.7" height="18.7" fill="#00ff00"/>
<text x="547.4" y="866.8" font-family="Liberation Serif" font-size="19.5" text-anchor="start" fill="#222" letter-spacing="1.5">6.&#8201;5</text>
<rect x="496.7" y="874.0" width="40.7" height="19.1" fill="#0000ff"/>
<text x="547.4" y="890.4" font-family="Liberation Serif" font-size="19.5" text-anchor="start" fill="#222" letter-spacing="1.5">7.&#8201;0</text>
<rect x="496.7" y="896.2" width="40.7" height="19.1" fill="#00ffff"/>
<text x="547.4" y="912.6" font-family="Liberation Serif" font-size="19.5" text-anchor="start" fill="#222" letter-spacing="1.5">7.&#8201;5</text>
<rect x="496.7" y="919.5" width="40.7" height="18.7" fill="#ff00ff"/>
<text x="547.4" y="935.7" font-family="Liberation Serif" font-size="19.5" text-anchor="start" fill="#222" letter-spacing="1.5">8.&#8201;0</text>
<text x="113.8" y="1482.5" font-family="Liberation Serif" font-size="47.4" text-anchor="start" >(c) Effect on ORP value</text>
<text x="1230.7" y="1368.9" font-family="Liberation Serif" font-size="35.5" text-anchor="middle" >0</text>
<text x="1191.7" y="1361.5" font-family="Liberation Serif" font-size="35.2" text-anchor="middle" >2</text>
<text x="1153.5" y="1354.3" font-family="Liberation Serif" font-size="35.0" text-anchor="middle" >4</text>
<text x="1116.1" y="1347.2" font-family="Liberation Serif" font-size="34.8" text-anchor="middle" >6</text>
<text x="1079.3" y="1340.2" font-family="Liberation Serif" font-size="34.5" text-anchor="middle" >8</text>
<text x="1043.3" y="1333.4" font-family="Liberation Serif" font-size="34.2" text-anchor="middle" >10</text>
<text x="1007.9" y="1326.7" font-family="Liberation Serif" font-size="34.0" text-anchor="middle" >12</text>
<text x="973.3" y="1320.1" font-family="Liberation Serif" font-size="33.8" text-anchor="middle" >14</text>
<text x="939.2" y="1313.6" font-family="Liberation Serif" font-size="33.5" text-anchor="middle" >16</text>
<text x="905.8" y="1307.3" font-family="Liberation Serif" font-size="33.2" text-anchor="middle" >18</text>
<text x="873.0" y="1301.0" font-family="Liberation Serif" font-size="33.0" text-anchor="middle" >20</text>
<text x="1268.2" y="1353.0" font-family="Liberation Serif" font-size="33" text-anchor="middle" >6.0</text>
<text x="1300.9" y="1316.5" font-family="Liberation Serif" font-size="32" text-anchor="middle" >6.5</text>
<text x="1333.6" y="1283.4" font-family="Liberation Serif" font-size="31" text-anchor="middle" >7.0</text>
<text x="1360.4" y="1252.9" font-family="Liberation Serif" font-size="30.5" text-anchor="middle" >7.5</text>
<text x="1387.3" y="1224.7" font-family="Liberation Serif" font-size="30" text-anchor="middle" >8.0</text>
<text x="1411.6" y="1185.5" font-family="Liberation Serif" font-size="31" text-anchor="start" >0</text>
<text x="1412.1" y="1124.2" font-family="Liberation Serif" font-size="31" text-anchor="start" >10</text>
<text x="1412.6" y="1061.8" font-family="Liberation Serif" font-size="31" text-anchor="start" >20</text>
<text x="1413.1" y="998.3" font-family="Liberation Serif" font-size="31" text-anchor="start" >30</text>
<text x="1413.6" y="933.5" font-family="Liberation Serif" font-size="31" text-anchor="start" >40</text>
<text x="1414.1" y="867.5" font-family="Liberation Serif" font-size="31" text-anchor="start" >50</text>
<text x="1414.6" y="800.3" font-family="Liberation Serif" font-size="31" text-anchor="start" >60</text>
<text x="1044.5" y="1378.0" font-family="Liberation Serif" font-size="34" text-anchor="middle" transform="rotate(11 1044.5 1367)">Time(d)</text>
<text x="1379.0" y="1294.6" font-family="Liberation Serif" font-size="30" text-anchor="middle" transform="rotate(-58 1379 1284.6)">Ph</text>
<text font-family="Liberation Serif" font-size="31" text-anchor="start" transform="translate(1485.5,1121) rotate(-90)">Utilization of SO<tspan font-size="18" dy="10">4</tspan><tspan font-size="20" dy="-22.6" dx="1">2-</tspan><tspan dy="12.6">(%)</tspan></text>
<rect x="1292.0" y="806.7" width="93.0" height="122.6" fill="#fff" stroke="#8c8c8c" stroke-width="1.2"/>
<rect x="1296.2" y="810.9" width="43.2" height="20.3" fill="#ff0000"/>
<text x="1350.0" y="827.9" font-family="Liberation Serif" font-size="19.5" text-anchor="start" fill="#222" letter-spacing="1.5">6.&#8201;0</text>
<rect x="1296.2" y="835.0" width="43.2" height="19.6" fill="#00ff00"/>
<text x="1350.0" y="851.6" font-family="Liberation Serif" font-size="19.5" text-anchor="start" fill="#222" letter-spacing="1.5">6.&#8201;5</text>
<rect x="1296.2" y="858.8" width="43.2" height="19.1" fill="#0000ff"/>
<text x="1350.0" y="875.2" font-family="Liberation Serif" font-size="19.5" text-anchor="start" fill="#222" letter-spacing="1.5">7.&#8201;0</text>
<rect x="1296.2" y="881.7" width="43.2" height="19.8" fill="#00ffff"/>
<text x="1350.0" y="898.4" font-family="Liberation Serif" font-size="19.5" text-anchor="start" fill="#222" letter-spacing="1.5">7.&#8201;5</text>
<rect x="1296.2" y="905.5" width="43.2" height="19.9" fill="#ff00ff"/>
<text x="1350.0" y="922.3" font-family="Liberation Serif" font-size="19.5" text-anchor="start" fill="#222" letter-spacing="1.5">8.&#8201;0</text>
<text x="863" y="1477" font-family="Liberation Serif" font-size="47.4">(d) Effect on SO<tspan font-size="29" dy="16">4</tspan><tspan font-size="26" dy="-27" dx="0">2-</tspan><tspan dy="11"> availability</tspan></text>
</svg></body></html>
